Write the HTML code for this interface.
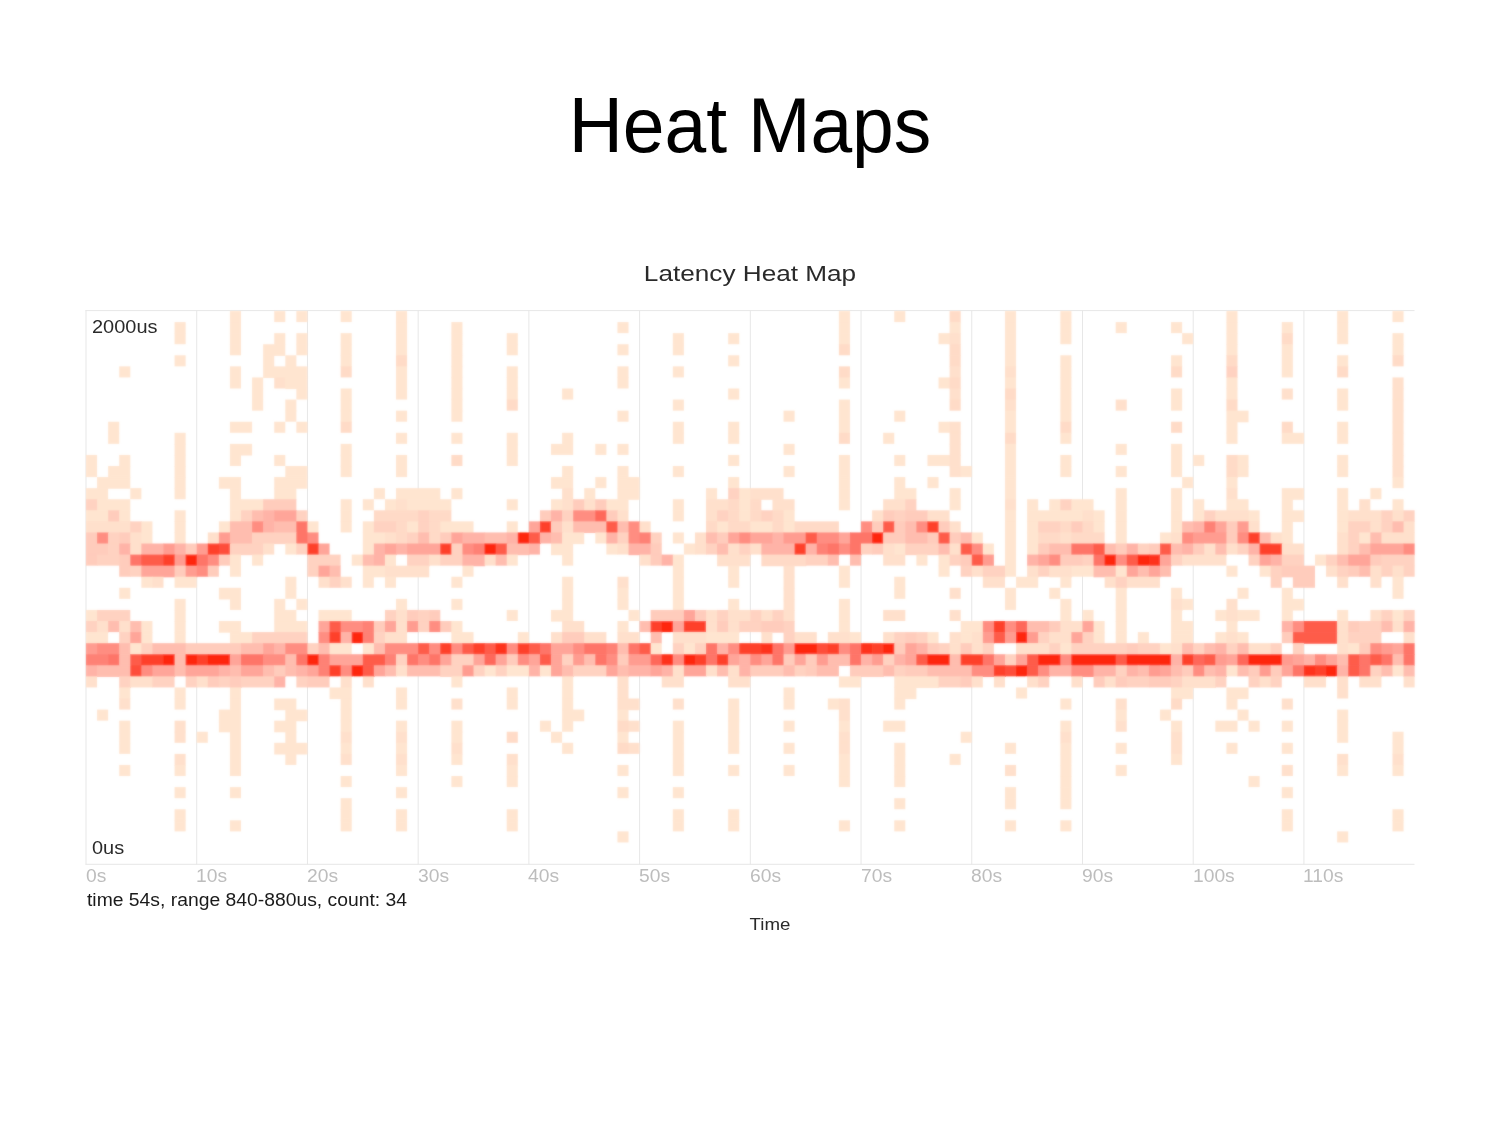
<!DOCTYPE html>
<html><head><meta charset="utf-8"><title>Heat Maps</title>
<style>
html,body{margin:0;padding:0;background:#fff;}
body{width:1500px;height:1125px;position:relative;overflow:hidden;font-family:"Liberation Sans",sans-serif;}
.title{position:absolute;left:0;width:1500px;top:83px;text-align:center;font-size:75px;line-height:86px;color:#000;transform:scaleY(1.05);transform-origin:50% 68.7px;}
.sub{position:absolute;left:0;width:1500px;top:259.9px;text-align:center;font-size:22.6px;line-height:28px;color:#2a2a2a;transform:scaleX(1.158);transform-origin:750px 50%;}
svg{position:absolute;left:0;top:0;}
.ax{position:absolute;top:866px;font-size:17.5px;line-height:20px;color:#bdbdbd;transform:scaleX(1.10);transform-origin:0 50%;white-space:nowrap;}
.yl{position:absolute;left:92.4px;font-size:17.5px;line-height:20px;color:#2a2a2a;transform:scaleX(1.14);transform-origin:0 50%;white-space:nowrap;}
.info{position:absolute;left:86.6px;top:890px;font-size:17.5px;line-height:20px;color:#1a1a1a;transform:scaleX(1.104);transform-origin:0 50%;white-space:nowrap;}
.time{position:absolute;left:720px;width:100px;top:914.5px;text-align:center;font-size:17px;line-height:20px;color:#2a2a2a;transform:scaleX(1.1);transform-origin:50% 50%;}
</style></head><body>
<div class="title">Heat Maps</div>
<div class="sub">Latency Heat Map</div>
<svg width="1500" height="1125" viewBox="0 0 1500 1125">
<defs><filter id="bl" x="0" y="0" width="1500" height="1125" filterUnits="userSpaceOnUse"><feGaussianBlur stdDeviation="0.9" result="b"/><feComposite in="b" in2="SourceGraphic" operator="arithmetic" k1="0" k2="0.5" k3="0.5" k4="0"/></filter></defs>
<g><rect x="85.50" y="310.2" width="1" height="554.4" fill="#e7e7e7"/>
<rect x="196.22" y="310.2" width="1" height="554.4" fill="#e7e7e7"/>
<rect x="306.94" y="310.2" width="1" height="554.4" fill="#e7e7e7"/>
<rect x="417.66" y="310.2" width="1" height="554.4" fill="#e7e7e7"/>
<rect x="528.38" y="310.2" width="1" height="554.4" fill="#e7e7e7"/>
<rect x="639.10" y="310.2" width="1" height="554.4" fill="#e7e7e7"/>
<rect x="749.82" y="310.2" width="1" height="554.4" fill="#e7e7e7"/>
<rect x="860.54" y="310.2" width="1" height="554.4" fill="#e7e7e7"/>
<rect x="971.26" y="310.2" width="1" height="554.4" fill="#e7e7e7"/>
<rect x="1081.98" y="310.2" width="1" height="554.4" fill="#e7e7e7"/>
<rect x="1192.70" y="310.2" width="1" height="554.4" fill="#e7e7e7"/>
<rect x="1303.42" y="310.2" width="1" height="554.4" fill="#e7e7e7"/>
<rect x="85.5" y="310.1" width="1329" height="1" fill="#e7e7e7"/>
<rect x="85.5" y="863.8" width="1329" height="1" fill="#e7e7e7"/></g>
<g filter="url(#bl)"><rect x="229.94" y="311.00" width="11.07" height="11.67" fill="#ffe5d0"/>
<rect x="274.22" y="311.00" width="11.07" height="11.07" fill="#ffe5d0"/>
<rect x="296.37" y="311.00" width="11.07" height="11.07" fill="#ffe5d0"/>
<rect x="340.66" y="311.00" width="11.07" height="11.07" fill="#ffe5d0"/>
<rect x="396.02" y="311.00" width="11.07" height="11.67" fill="#ffe5d0"/>
<rect x="838.90" y="311.00" width="11.07" height="11.67" fill="#ffe5d0"/>
<rect x="894.26" y="311.00" width="11.07" height="11.07" fill="#ffe5d0"/>
<rect x="949.62" y="311.00" width="11.07" height="11.67" fill="#ffdbc7"/>
<rect x="1004.98" y="311.00" width="11.07" height="11.67" fill="#ffe5d0"/>
<rect x="1060.34" y="311.00" width="11.07" height="11.67" fill="#ffe5d0"/>
<rect x="1226.42" y="311.00" width="11.07" height="11.67" fill="#ffe5d0"/>
<rect x="1337.14" y="311.00" width="11.07" height="11.67" fill="#ffe5d0"/>
<rect x="1392.50" y="311.00" width="11.07" height="11.07" fill="#ffe5d0"/>
<rect x="174.58" y="322.07" width="11.07" height="11.67" fill="#ffe5d0"/>
<rect x="229.94" y="322.07" width="11.07" height="11.67" fill="#ffe5d0"/>
<rect x="396.02" y="322.07" width="11.07" height="11.67" fill="#ffe5d0"/>
<rect x="451.38" y="322.07" width="11.07" height="11.67" fill="#ffe5d0"/>
<rect x="617.46" y="322.07" width="11.07" height="11.07" fill="#ffe5d0"/>
<rect x="838.90" y="322.07" width="11.07" height="11.67" fill="#ffe5d0"/>
<rect x="949.62" y="322.07" width="11.07" height="11.67" fill="#ffe5d0"/>
<rect x="1004.98" y="322.07" width="11.07" height="11.67" fill="#ffe5d0"/>
<rect x="1060.34" y="322.07" width="11.07" height="11.67" fill="#ffe5d0"/>
<rect x="1115.70" y="322.07" width="11.07" height="11.07" fill="#ffe5d0"/>
<rect x="1171.06" y="322.07" width="11.07" height="11.07" fill="#ffe5d0"/>
<rect x="1226.42" y="322.07" width="11.07" height="11.67" fill="#ffe5d0"/>
<rect x="1281.78" y="322.07" width="11.07" height="11.67" fill="#ffe5d0"/>
<rect x="1337.14" y="322.07" width="11.07" height="11.67" fill="#ffe5d0"/>
<rect x="174.58" y="333.14" width="11.07" height="11.07" fill="#ffe5d0"/>
<rect x="229.94" y="333.14" width="11.07" height="11.67" fill="#ffe5d0"/>
<rect x="274.22" y="333.14" width="11.07" height="11.67" fill="#ffe5d0"/>
<rect x="296.37" y="333.14" width="11.07" height="11.67" fill="#ffe5d0"/>
<rect x="340.66" y="333.14" width="11.07" height="11.67" fill="#ffe5d0"/>
<rect x="396.02" y="333.14" width="11.07" height="11.67" fill="#ffe5d0"/>
<rect x="451.38" y="333.14" width="11.07" height="11.67" fill="#ffe5d0"/>
<rect x="506.74" y="333.14" width="11.07" height="11.67" fill="#ffe5d0"/>
<rect x="672.82" y="333.14" width="11.07" height="11.67" fill="#ffe5d0"/>
<rect x="728.18" y="333.14" width="11.07" height="11.07" fill="#ffe5d0"/>
<rect x="838.90" y="333.14" width="11.07" height="11.67" fill="#ffe5d0"/>
<rect x="938.54" y="333.14" width="11.67" height="11.07" fill="#ffe5d0"/>
<rect x="949.62" y="333.14" width="11.07" height="11.67" fill="#ffe0cc"/>
<rect x="1004.98" y="333.14" width="11.07" height="11.67" fill="#ffe5d0"/>
<rect x="1060.34" y="333.14" width="11.07" height="11.07" fill="#ffe5d0"/>
<rect x="1182.13" y="333.14" width="11.07" height="11.07" fill="#ffe5d0"/>
<rect x="1226.42" y="333.14" width="11.07" height="11.67" fill="#ffe5d0"/>
<rect x="1281.78" y="333.14" width="11.07" height="11.67" fill="#ffdbc7"/>
<rect x="1337.14" y="333.14" width="11.07" height="11.07" fill="#ffe5d0"/>
<rect x="1392.50" y="333.14" width="11.07" height="11.67" fill="#ffe5d0"/>
<rect x="229.94" y="344.22" width="11.07" height="11.07" fill="#ffe5d0"/>
<rect x="263.15" y="344.22" width="22.14" height="11.67" fill="#ffe5d0"/>
<rect x="296.37" y="344.22" width="11.07" height="11.07" fill="#ffe5d0"/>
<rect x="340.66" y="344.22" width="11.07" height="11.67" fill="#ffe5d0"/>
<rect x="396.02" y="344.22" width="11.07" height="11.67" fill="#ffe5d0"/>
<rect x="451.38" y="344.22" width="11.07" height="11.67" fill="#ffe5d0"/>
<rect x="506.74" y="344.22" width="11.07" height="11.07" fill="#ffe5d0"/>
<rect x="617.46" y="344.22" width="11.07" height="11.07" fill="#ffe5d0"/>
<rect x="672.82" y="344.22" width="11.07" height="11.07" fill="#ffe5d0"/>
<rect x="838.90" y="344.22" width="11.07" height="11.07" fill="#ffdbc7"/>
<rect x="949.62" y="344.22" width="11.07" height="11.67" fill="#ffdbc7"/>
<rect x="1004.98" y="344.22" width="11.07" height="11.67" fill="#ffe5d0"/>
<rect x="1226.42" y="344.22" width="11.07" height="11.67" fill="#ffe5d0"/>
<rect x="1281.78" y="344.22" width="11.07" height="11.67" fill="#ffe5d0"/>
<rect x="1392.50" y="344.22" width="11.07" height="11.67" fill="#ffe5d0"/>
<rect x="174.58" y="355.29" width="11.07" height="11.07" fill="#ffe5d0"/>
<rect x="263.15" y="355.29" width="11.07" height="11.67" fill="#ffe5d0"/>
<rect x="285.30" y="355.29" width="11.07" height="11.67" fill="#ffe5d0"/>
<rect x="340.66" y="355.29" width="11.07" height="11.67" fill="#ffe5d0"/>
<rect x="396.02" y="355.29" width="11.07" height="11.67" fill="#ffdbc7"/>
<rect x="451.38" y="355.29" width="11.07" height="11.67" fill="#ffe5d0"/>
<rect x="728.18" y="355.29" width="11.07" height="11.07" fill="#ffe5d0"/>
<rect x="949.62" y="355.29" width="11.07" height="11.67" fill="#ffdbc7"/>
<rect x="1004.98" y="355.29" width="11.07" height="11.67" fill="#ffe5d0"/>
<rect x="1060.34" y="355.29" width="11.07" height="11.67" fill="#ffe5d0"/>
<rect x="1171.06" y="355.29" width="11.07" height="11.67" fill="#ffe5d0"/>
<rect x="1226.42" y="355.29" width="11.07" height="11.67" fill="#ffdbc7"/>
<rect x="1281.78" y="355.29" width="11.07" height="11.67" fill="#ffe5d0"/>
<rect x="1337.14" y="355.29" width="11.07" height="11.67" fill="#ffe5d0"/>
<rect x="1392.50" y="355.29" width="11.07" height="11.07" fill="#ffdbc7"/>
<rect x="119.22" y="366.36" width="11.07" height="11.07" fill="#ffe5d0"/>
<rect x="229.94" y="366.36" width="11.07" height="11.67" fill="#ffe5d0"/>
<rect x="263.15" y="366.36" width="44.29" height="11.67" fill="#ffe5d0"/>
<rect x="340.66" y="366.36" width="11.07" height="11.07" fill="#ffdbc7"/>
<rect x="396.02" y="366.36" width="11.07" height="11.67" fill="#ffe5d0"/>
<rect x="451.38" y="366.36" width="11.07" height="11.67" fill="#ffe5d0"/>
<rect x="506.74" y="366.36" width="11.07" height="11.67" fill="#ffe5d0"/>
<rect x="617.46" y="366.36" width="11.07" height="11.67" fill="#ffe5d0"/>
<rect x="672.82" y="366.36" width="11.07" height="11.07" fill="#ffe5d0"/>
<rect x="838.90" y="366.36" width="11.07" height="11.67" fill="#ffdbc7"/>
<rect x="949.62" y="366.36" width="11.07" height="11.67" fill="#ffe0cc"/>
<rect x="1004.98" y="366.36" width="11.07" height="11.67" fill="#ffe0cc"/>
<rect x="1060.34" y="366.36" width="11.07" height="11.67" fill="#ffe5d0"/>
<rect x="1171.06" y="366.36" width="11.07" height="11.07" fill="#ffdbc7"/>
<rect x="1226.42" y="366.36" width="11.07" height="11.67" fill="#ffd2c1"/>
<rect x="1281.78" y="366.36" width="11.07" height="11.07" fill="#ffe5d0"/>
<rect x="1337.14" y="366.36" width="11.07" height="11.07" fill="#ffdbc7"/>
<rect x="229.94" y="377.43" width="11.07" height="11.07" fill="#ffe5d0"/>
<rect x="252.08" y="377.43" width="11.07" height="11.67" fill="#ffe5d0"/>
<rect x="274.22" y="377.43" width="11.67" height="11.07" fill="#ffe0cc"/>
<rect x="285.30" y="377.43" width="22.14" height="11.67" fill="#ffe5d0"/>
<rect x="396.02" y="377.43" width="11.07" height="11.67" fill="#ffe5d0"/>
<rect x="451.38" y="377.43" width="11.07" height="11.67" fill="#ffe5d0"/>
<rect x="506.74" y="377.43" width="11.07" height="11.67" fill="#ffe5d0"/>
<rect x="617.46" y="377.43" width="11.07" height="11.07" fill="#ffe5d0"/>
<rect x="838.90" y="377.43" width="11.07" height="11.07" fill="#ffe5d0"/>
<rect x="938.54" y="377.43" width="11.67" height="11.07" fill="#ffe5d0"/>
<rect x="949.62" y="377.43" width="11.07" height="11.67" fill="#ffdbc7"/>
<rect x="1004.98" y="377.43" width="11.07" height="11.67" fill="#ffe5d0"/>
<rect x="1060.34" y="377.43" width="11.07" height="11.67" fill="#ffe5d0"/>
<rect x="1226.42" y="377.43" width="11.07" height="11.67" fill="#ffe5d0"/>
<rect x="1392.50" y="377.43" width="11.07" height="11.67" fill="#ffe0cc"/>
<rect x="252.08" y="388.50" width="11.07" height="11.67" fill="#ffe5d0"/>
<rect x="296.37" y="388.50" width="11.07" height="11.07" fill="#ffe5d0"/>
<rect x="340.66" y="388.50" width="11.07" height="11.67" fill="#ffe5d0"/>
<rect x="396.02" y="388.50" width="11.07" height="11.07" fill="#ffe5d0"/>
<rect x="451.38" y="388.50" width="11.07" height="11.67" fill="#ffe5d0"/>
<rect x="506.74" y="388.50" width="11.07" height="11.67" fill="#ffe5d0"/>
<rect x="562.10" y="388.50" width="11.07" height="11.07" fill="#ffe5d0"/>
<rect x="728.18" y="388.50" width="11.07" height="11.07" fill="#ffe5d0"/>
<rect x="949.62" y="388.50" width="11.07" height="11.67" fill="#ffe0cc"/>
<rect x="1004.98" y="388.50" width="11.07" height="11.67" fill="#ffdbc7"/>
<rect x="1060.34" y="388.50" width="11.07" height="11.67" fill="#ffe5d0"/>
<rect x="1171.06" y="388.50" width="11.07" height="11.67" fill="#ffe5d0"/>
<rect x="1226.42" y="388.50" width="11.07" height="11.67" fill="#ffe5d0"/>
<rect x="1281.78" y="388.50" width="11.07" height="11.07" fill="#ffe0cc"/>
<rect x="1337.14" y="388.50" width="11.07" height="11.67" fill="#ffe5d0"/>
<rect x="1392.50" y="388.50" width="11.07" height="11.67" fill="#ffe0cc"/>
<rect x="252.08" y="399.58" width="11.07" height="11.07" fill="#ffe5d0"/>
<rect x="285.30" y="399.58" width="11.07" height="11.67" fill="#ffe5d0"/>
<rect x="340.66" y="399.58" width="11.07" height="11.67" fill="#ffe5d0"/>
<rect x="451.38" y="399.58" width="11.07" height="11.67" fill="#ffe5d0"/>
<rect x="506.74" y="399.58" width="11.07" height="11.07" fill="#ffdbc7"/>
<rect x="672.82" y="399.58" width="11.07" height="11.07" fill="#ffe5d0"/>
<rect x="838.90" y="399.58" width="11.07" height="11.67" fill="#ffe5d0"/>
<rect x="949.62" y="399.58" width="11.07" height="11.07" fill="#ffdbc7"/>
<rect x="1004.98" y="399.58" width="11.07" height="11.67" fill="#ffe0cc"/>
<rect x="1060.34" y="399.58" width="11.07" height="11.67" fill="#ffe5d0"/>
<rect x="1115.70" y="399.58" width="11.07" height="11.07" fill="#ffe0cc"/>
<rect x="1171.06" y="399.58" width="11.07" height="11.07" fill="#ffe5d0"/>
<rect x="1226.42" y="399.58" width="11.07" height="11.67" fill="#ffdbc7"/>
<rect x="1337.14" y="399.58" width="11.07" height="11.07" fill="#ffe5d0"/>
<rect x="1392.50" y="399.58" width="11.07" height="11.67" fill="#ffe0cc"/>
<rect x="285.30" y="410.65" width="11.07" height="11.07" fill="#ffe5d0"/>
<rect x="340.66" y="410.65" width="11.07" height="11.67" fill="#ffe5d0"/>
<rect x="396.02" y="410.65" width="11.07" height="11.07" fill="#ffe5d0"/>
<rect x="451.38" y="410.65" width="11.07" height="11.07" fill="#ffe5d0"/>
<rect x="617.46" y="410.65" width="11.07" height="11.07" fill="#ffe5d0"/>
<rect x="783.54" y="410.65" width="11.07" height="11.07" fill="#ffe5d0"/>
<rect x="838.90" y="410.65" width="11.07" height="11.67" fill="#ffe5d0"/>
<rect x="894.26" y="410.65" width="11.07" height="11.07" fill="#ffe5d0"/>
<rect x="1004.98" y="410.65" width="11.07" height="11.67" fill="#ffe5d0"/>
<rect x="1060.34" y="410.65" width="11.07" height="11.67" fill="#ffe5d0"/>
<rect x="1226.42" y="410.65" width="22.14" height="11.67" fill="#ffe5d0"/>
<rect x="1392.50" y="410.65" width="11.07" height="11.67" fill="#ffe0cc"/>
<rect x="108.14" y="421.72" width="11.07" height="11.67" fill="#ffe5d0"/>
<rect x="229.94" y="421.72" width="22.14" height="11.07" fill="#ffe5d0"/>
<rect x="274.22" y="421.72" width="11.07" height="11.07" fill="#ffe5d0"/>
<rect x="296.37" y="421.72" width="11.07" height="11.07" fill="#ffe5d0"/>
<rect x="340.66" y="421.72" width="11.07" height="11.07" fill="#ffdbc7"/>
<rect x="672.82" y="421.72" width="11.07" height="11.67" fill="#ffe5d0"/>
<rect x="728.18" y="421.72" width="11.07" height="11.67" fill="#ffe5d0"/>
<rect x="838.90" y="421.72" width="11.07" height="11.67" fill="#ffe5d0"/>
<rect x="938.54" y="421.72" width="11.67" height="11.07" fill="#ffe5d0"/>
<rect x="949.62" y="421.72" width="11.07" height="11.67" fill="#ffe0cc"/>
<rect x="1004.98" y="421.72" width="11.07" height="11.67" fill="#ffe5d0"/>
<rect x="1060.34" y="421.72" width="11.07" height="11.67" fill="#ffdbc7"/>
<rect x="1171.06" y="421.72" width="11.07" height="11.07" fill="#ffdbc7"/>
<rect x="1226.42" y="421.72" width="11.07" height="11.67" fill="#ffe5d0"/>
<rect x="1281.78" y="421.72" width="11.07" height="11.67" fill="#ffdbc7"/>
<rect x="1337.14" y="421.72" width="11.07" height="11.67" fill="#ffe5d0"/>
<rect x="1392.50" y="421.72" width="11.07" height="11.67" fill="#ffe0cc"/>
<rect x="108.14" y="432.79" width="11.07" height="11.07" fill="#ffe5d0"/>
<rect x="174.58" y="432.79" width="11.07" height="11.67" fill="#ffe5d0"/>
<rect x="396.02" y="432.79" width="11.07" height="11.07" fill="#ffe5d0"/>
<rect x="451.38" y="432.79" width="11.07" height="11.07" fill="#ffe5d0"/>
<rect x="506.74" y="432.79" width="11.07" height="11.67" fill="#ffe5d0"/>
<rect x="562.10" y="432.79" width="11.07" height="11.67" fill="#ffe5d0"/>
<rect x="672.82" y="432.79" width="11.07" height="11.07" fill="#ffe5d0"/>
<rect x="728.18" y="432.79" width="11.07" height="11.07" fill="#ffe5d0"/>
<rect x="838.90" y="432.79" width="11.07" height="11.07" fill="#ffdbc7"/>
<rect x="883.18" y="432.79" width="11.07" height="11.07" fill="#ffe5d0"/>
<rect x="949.62" y="432.79" width="11.07" height="11.67" fill="#ffe0cc"/>
<rect x="1004.98" y="432.79" width="11.07" height="11.67" fill="#ffdbc7"/>
<rect x="1060.34" y="432.79" width="11.07" height="11.07" fill="#ffe5d0"/>
<rect x="1226.42" y="432.79" width="11.07" height="11.07" fill="#ffe5d0"/>
<rect x="1281.78" y="432.79" width="22.14" height="11.07" fill="#ffe5d0"/>
<rect x="1337.14" y="432.79" width="11.07" height="11.07" fill="#ffe5d0"/>
<rect x="1392.50" y="432.79" width="11.07" height="11.67" fill="#ffe0cc"/>
<rect x="174.58" y="443.86" width="11.07" height="11.67" fill="#ffe5d0"/>
<rect x="229.94" y="443.86" width="22.14" height="11.67" fill="#ffe5d0"/>
<rect x="340.66" y="443.86" width="11.07" height="11.67" fill="#ffe5d0"/>
<rect x="506.74" y="443.86" width="11.07" height="11.67" fill="#ffe5d0"/>
<rect x="551.02" y="443.86" width="22.14" height="11.07" fill="#ffe5d0"/>
<rect x="595.31" y="443.86" width="11.07" height="11.07" fill="#ffe5d0"/>
<rect x="617.46" y="443.86" width="11.07" height="11.07" fill="#ffe5d0"/>
<rect x="783.54" y="443.86" width="11.07" height="11.07" fill="#ffe5d0"/>
<rect x="949.62" y="443.86" width="11.07" height="11.67" fill="#ffe0cc"/>
<rect x="1004.98" y="443.86" width="11.07" height="11.67" fill="#ffe5d0"/>
<rect x="1115.70" y="443.86" width="11.07" height="11.07" fill="#ffe5d0"/>
<rect x="1171.06" y="443.86" width="11.07" height="11.67" fill="#ffe5d0"/>
<rect x="1392.50" y="443.86" width="11.07" height="11.67" fill="#ffe0cc"/>
<rect x="86.00" y="454.94" width="11.07" height="11.67" fill="#ffe5d0"/>
<rect x="119.22" y="454.94" width="11.07" height="11.67" fill="#ffe5d0"/>
<rect x="174.58" y="454.94" width="11.07" height="11.67" fill="#ffe5d0"/>
<rect x="229.94" y="454.94" width="11.07" height="11.07" fill="#ffe5d0"/>
<rect x="274.22" y="454.94" width="11.07" height="11.07" fill="#ffe5d0"/>
<rect x="340.66" y="454.94" width="11.07" height="11.67" fill="#ffe5d0"/>
<rect x="396.02" y="454.94" width="11.07" height="11.67" fill="#ffe5d0"/>
<rect x="451.38" y="454.94" width="11.07" height="11.07" fill="#ffdbc7"/>
<rect x="506.74" y="454.94" width="11.07" height="11.07" fill="#ffe5d0"/>
<rect x="728.18" y="454.94" width="11.07" height="11.07" fill="#ffe5d0"/>
<rect x="838.90" y="454.94" width="11.07" height="11.67" fill="#ffe5d0"/>
<rect x="894.26" y="454.94" width="11.07" height="11.07" fill="#ffe5d0"/>
<rect x="927.47" y="454.94" width="22.74" height="11.07" fill="#ffe5d0"/>
<rect x="949.62" y="454.94" width="11.07" height="11.67" fill="#ffe0cc"/>
<rect x="1004.98" y="454.94" width="11.07" height="11.67" fill="#ffe5d0"/>
<rect x="1060.34" y="454.94" width="11.07" height="11.67" fill="#ffe5d0"/>
<rect x="1171.06" y="454.94" width="11.07" height="11.67" fill="#ffe5d0"/>
<rect x="1193.20" y="454.94" width="11.07" height="11.07" fill="#ffe5d0"/>
<rect x="1226.42" y="454.94" width="11.67" height="11.67" fill="#ffdbc7"/>
<rect x="1237.49" y="454.94" width="11.07" height="11.67" fill="#ffe5d0"/>
<rect x="1337.14" y="454.94" width="11.07" height="11.67" fill="#ffe5d0"/>
<rect x="1392.50" y="454.94" width="11.07" height="11.67" fill="#ffe0cc"/>
<rect x="86.00" y="466.01" width="11.07" height="11.07" fill="#ffe5d0"/>
<rect x="108.14" y="466.01" width="22.14" height="11.67" fill="#ffe5d0"/>
<rect x="174.58" y="466.01" width="11.07" height="11.67" fill="#ffe5d0"/>
<rect x="285.30" y="466.01" width="22.14" height="11.67" fill="#ffe5d0"/>
<rect x="340.66" y="466.01" width="11.07" height="11.07" fill="#ffe5d0"/>
<rect x="396.02" y="466.01" width="11.07" height="11.07" fill="#ffe5d0"/>
<rect x="562.10" y="466.01" width="11.07" height="11.67" fill="#ffe5d0"/>
<rect x="617.46" y="466.01" width="11.07" height="11.67" fill="#ffe5d0"/>
<rect x="672.82" y="466.01" width="11.07" height="11.07" fill="#ffe5d0"/>
<rect x="783.54" y="466.01" width="11.07" height="11.07" fill="#ffe5d0"/>
<rect x="838.90" y="466.01" width="11.07" height="11.67" fill="#ffe5d0"/>
<rect x="949.62" y="466.01" width="11.67" height="11.07" fill="#ffe0cc"/>
<rect x="960.69" y="466.01" width="11.07" height="11.07" fill="#ffe5d0"/>
<rect x="1004.98" y="466.01" width="11.07" height="11.67" fill="#ffe5d0"/>
<rect x="1060.34" y="466.01" width="11.07" height="11.07" fill="#ffe5d0"/>
<rect x="1115.70" y="466.01" width="11.07" height="11.07" fill="#ffe5d0"/>
<rect x="1171.06" y="466.01" width="11.07" height="11.07" fill="#ffe5d0"/>
<rect x="1226.42" y="466.01" width="11.67" height="11.67" fill="#ffdbc7"/>
<rect x="1237.49" y="466.01" width="11.07" height="11.07" fill="#ffe5d0"/>
<rect x="1337.14" y="466.01" width="11.07" height="11.07" fill="#ffe5d0"/>
<rect x="1392.50" y="466.01" width="11.07" height="11.67" fill="#ffe0cc"/>
<rect x="97.07" y="477.08" width="33.22" height="11.67" fill="#ffe5d0"/>
<rect x="174.58" y="477.08" width="11.07" height="11.67" fill="#ffe5d0"/>
<rect x="218.86" y="477.08" width="22.14" height="11.67" fill="#ffe5d0"/>
<rect x="274.22" y="477.08" width="33.22" height="11.67" fill="#ffe5d0"/>
<rect x="551.02" y="477.08" width="22.14" height="11.67" fill="#ffe5d0"/>
<rect x="595.31" y="477.08" width="11.07" height="11.07" fill="#ffe5d0"/>
<rect x="617.46" y="477.08" width="22.14" height="11.67" fill="#ffe5d0"/>
<rect x="728.18" y="477.08" width="11.07" height="11.67" fill="#ffe5d0"/>
<rect x="838.90" y="477.08" width="11.07" height="11.67" fill="#ffe5d0"/>
<rect x="894.26" y="477.08" width="11.07" height="11.67" fill="#ffe5d0"/>
<rect x="927.47" y="477.08" width="11.07" height="11.07" fill="#ffe5d0"/>
<rect x="1004.98" y="477.08" width="11.07" height="11.67" fill="#ffe5d0"/>
<rect x="1182.13" y="477.08" width="11.07" height="11.07" fill="#ffe5d0"/>
<rect x="1226.42" y="477.08" width="11.07" height="11.67" fill="#ffe5d0"/>
<rect x="1392.50" y="477.08" width="11.07" height="11.07" fill="#ffe5d0"/>
<rect x="86.00" y="488.15" width="22.14" height="11.67" fill="#ffe5d0"/>
<rect x="130.29" y="488.15" width="11.07" height="11.07" fill="#ffe5d0"/>
<rect x="174.58" y="488.15" width="11.07" height="11.07" fill="#ffe5d0"/>
<rect x="229.94" y="488.15" width="11.07" height="11.67" fill="#ffe5d0"/>
<rect x="274.22" y="488.15" width="22.14" height="11.67" fill="#ffe5d0"/>
<rect x="373.87" y="488.15" width="11.07" height="11.07" fill="#ffe5d0"/>
<rect x="396.02" y="488.15" width="44.29" height="11.67" fill="#ffe5d0"/>
<rect x="451.38" y="488.15" width="11.07" height="11.07" fill="#ffe5d0"/>
<rect x="562.10" y="488.15" width="11.07" height="11.67" fill="#ffe0cc"/>
<rect x="584.24" y="488.15" width="11.07" height="11.67" fill="#ffe5d0"/>
<rect x="617.46" y="488.15" width="22.14" height="11.67" fill="#ffe5d0"/>
<rect x="706.03" y="488.15" width="11.07" height="11.67" fill="#ffe5d0"/>
<rect x="728.18" y="488.15" width="11.67" height="11.67" fill="#ffd2c1"/>
<rect x="739.25" y="488.15" width="11.67" height="11.67" fill="#ffe5d0"/>
<rect x="750.32" y="488.15" width="33.22" height="11.67" fill="#ffe0cc"/>
<rect x="838.90" y="488.15" width="11.07" height="11.67" fill="#ffe5d0"/>
<rect x="894.26" y="488.15" width="22.14" height="11.67" fill="#ffe5d0"/>
<rect x="949.62" y="488.15" width="11.07" height="11.67" fill="#ffe5d0"/>
<rect x="1004.98" y="488.15" width="11.07" height="11.67" fill="#ffe5d0"/>
<rect x="1115.70" y="488.15" width="11.07" height="11.67" fill="#ffe5d0"/>
<rect x="1171.06" y="488.15" width="11.07" height="11.67" fill="#ffe5d0"/>
<rect x="1226.42" y="488.15" width="11.07" height="11.67" fill="#ffe0cc"/>
<rect x="1281.78" y="488.15" width="22.14" height="11.67" fill="#ffe5d0"/>
<rect x="1337.14" y="488.15" width="11.07" height="11.67" fill="#ffe5d0"/>
<rect x="1370.35" y="488.15" width="11.07" height="11.07" fill="#ffe5d0"/>
<rect x="86.00" y="499.22" width="11.67" height="11.67" fill="#ffd2c1"/>
<rect x="97.07" y="499.22" width="33.22" height="11.67" fill="#ffe5d0"/>
<rect x="229.94" y="499.22" width="33.82" height="11.67" fill="#ffe5d0"/>
<rect x="263.15" y="499.22" width="33.22" height="11.67" fill="#ffccbc"/>
<rect x="340.66" y="499.22" width="11.07" height="11.67" fill="#ffe5d0"/>
<rect x="362.80" y="499.22" width="11.07" height="11.07" fill="#ffe5d0"/>
<rect x="384.94" y="499.22" width="11.67" height="11.67" fill="#ffe5d0"/>
<rect x="396.02" y="499.22" width="11.67" height="11.67" fill="#ffe0cc"/>
<rect x="407.09" y="499.22" width="44.29" height="11.67" fill="#ffe5d0"/>
<rect x="506.74" y="499.22" width="11.07" height="11.07" fill="#ffe5d0"/>
<rect x="551.02" y="499.22" width="11.67" height="11.67" fill="#ffe5d0"/>
<rect x="562.10" y="499.22" width="11.67" height="11.67" fill="#ffe0cc"/>
<rect x="573.17" y="499.22" width="11.67" height="11.67" fill="#ffccbc"/>
<rect x="584.24" y="499.22" width="11.67" height="11.67" fill="#ffe0cc"/>
<rect x="595.31" y="499.22" width="11.67" height="11.67" fill="#ffccbc"/>
<rect x="606.38" y="499.22" width="22.14" height="11.67" fill="#ffe5d0"/>
<rect x="672.82" y="499.22" width="11.07" height="11.67" fill="#ffe5d0"/>
<rect x="706.03" y="499.22" width="22.74" height="11.67" fill="#ffe0cc"/>
<rect x="728.18" y="499.22" width="11.67" height="11.67" fill="#ffdac7"/>
<rect x="739.25" y="499.22" width="11.67" height="11.67" fill="#ffe5d0"/>
<rect x="750.32" y="499.22" width="11.07" height="11.67" fill="#ffdac7"/>
<rect x="772.46" y="499.22" width="22.14" height="11.67" fill="#ffe0cc"/>
<rect x="838.90" y="499.22" width="11.07" height="11.07" fill="#ffe5d0"/>
<rect x="883.18" y="499.22" width="22.74" height="11.67" fill="#ffe0cc"/>
<rect x="905.33" y="499.22" width="11.07" height="11.67" fill="#ffd2c1"/>
<rect x="949.62" y="499.22" width="11.07" height="11.07" fill="#ffe5d0"/>
<rect x="1004.98" y="499.22" width="11.07" height="11.67" fill="#ffe0cc"/>
<rect x="1027.12" y="499.22" width="11.07" height="11.67" fill="#ffe5d0"/>
<rect x="1049.26" y="499.22" width="11.67" height="11.67" fill="#ffe5d0"/>
<rect x="1060.34" y="499.22" width="11.67" height="11.67" fill="#ffd2c1"/>
<rect x="1071.41" y="499.22" width="22.14" height="11.67" fill="#ffe5d0"/>
<rect x="1115.70" y="499.22" width="11.07" height="11.67" fill="#ffe5d0"/>
<rect x="1171.06" y="499.22" width="11.07" height="11.67" fill="#ffe5d0"/>
<rect x="1193.20" y="499.22" width="11.07" height="11.67" fill="#ffe5d0"/>
<rect x="1226.42" y="499.22" width="22.14" height="11.67" fill="#ffe5d0"/>
<rect x="1281.78" y="499.22" width="11.07" height="11.67" fill="#ffe5d0"/>
<rect x="1337.14" y="499.22" width="11.07" height="11.67" fill="#ffe5d0"/>
<rect x="1359.28" y="499.22" width="11.07" height="11.67" fill="#ffe0cc"/>
<rect x="1392.50" y="499.22" width="11.07" height="11.67" fill="#ffe5d0"/>
<rect x="86.00" y="510.30" width="22.74" height="11.67" fill="#ffe5d0"/>
<rect x="108.14" y="510.30" width="11.67" height="11.67" fill="#ffccbc"/>
<rect x="119.22" y="510.30" width="11.07" height="11.67" fill="#ffe5d0"/>
<rect x="174.58" y="510.30" width="11.07" height="11.67" fill="#ffe5d0"/>
<rect x="229.94" y="510.30" width="11.67" height="11.67" fill="#ffe5d0"/>
<rect x="241.01" y="510.30" width="11.67" height="11.67" fill="#ffd2c1"/>
<rect x="252.08" y="510.30" width="11.67" height="11.67" fill="#ffbdaf"/>
<rect x="263.15" y="510.30" width="11.67" height="11.67" fill="#ffb3a7"/>
<rect x="274.22" y="510.30" width="22.74" height="11.67" fill="#ffa599"/>
<rect x="296.37" y="510.30" width="11.07" height="11.67" fill="#ffd2c1"/>
<rect x="340.66" y="510.30" width="11.07" height="11.67" fill="#ffe5d0"/>
<rect x="373.87" y="510.30" width="44.89" height="11.67" fill="#ffdac7"/>
<rect x="418.16" y="510.30" width="11.67" height="11.67" fill="#ffd2c1"/>
<rect x="429.23" y="510.30" width="22.14" height="11.67" fill="#ffdac7"/>
<rect x="539.95" y="510.30" width="11.67" height="11.67" fill="#ffccbc"/>
<rect x="551.02" y="510.30" width="11.67" height="11.67" fill="#ffb3a7"/>
<rect x="562.10" y="510.30" width="11.67" height="11.67" fill="#ffd2c1"/>
<rect x="573.17" y="510.30" width="22.74" height="11.67" fill="#ff8d81"/>
<rect x="595.31" y="510.30" width="11.67" height="11.67" fill="#fe675a"/>
<rect x="606.38" y="510.30" width="11.67" height="11.67" fill="#ffccbc"/>
<rect x="617.46" y="510.30" width="11.07" height="11.67" fill="#ffe0cc"/>
<rect x="672.82" y="510.30" width="11.07" height="11.07" fill="#ffe5d0"/>
<rect x="706.03" y="510.30" width="11.67" height="11.67" fill="#ffe0cc"/>
<rect x="717.10" y="510.30" width="11.67" height="11.67" fill="#ffd2c1"/>
<rect x="728.18" y="510.30" width="11.67" height="11.67" fill="#ffdac7"/>
<rect x="739.25" y="510.30" width="11.67" height="11.67" fill="#ffe5d0"/>
<rect x="750.32" y="510.30" width="11.67" height="11.67" fill="#ffdac7"/>
<rect x="761.39" y="510.30" width="11.67" height="11.67" fill="#ffd2c1"/>
<rect x="772.46" y="510.30" width="11.67" height="11.67" fill="#ffdac7"/>
<rect x="783.54" y="510.30" width="11.07" height="11.67" fill="#ffe5d0"/>
<rect x="872.11" y="510.30" width="11.67" height="11.67" fill="#ffe0cc"/>
<rect x="883.18" y="510.30" width="11.67" height="11.67" fill="#ffccbc"/>
<rect x="894.26" y="510.30" width="11.67" height="11.67" fill="#ffd2c1"/>
<rect x="905.33" y="510.30" width="22.74" height="11.67" fill="#ffccbc"/>
<rect x="927.47" y="510.30" width="22.14" height="11.67" fill="#ffe0cc"/>
<rect x="1004.98" y="510.30" width="11.07" height="11.67" fill="#ffe5d0"/>
<rect x="1027.12" y="510.30" width="55.96" height="11.67" fill="#ffe5d0"/>
<rect x="1082.48" y="510.30" width="11.67" height="11.67" fill="#ffe0cc"/>
<rect x="1093.55" y="510.30" width="11.07" height="11.67" fill="#ffe5d0"/>
<rect x="1115.70" y="510.30" width="11.07" height="11.67" fill="#ffe5d0"/>
<rect x="1171.06" y="510.30" width="11.07" height="11.67" fill="#ffe5d0"/>
<rect x="1193.20" y="510.30" width="11.67" height="11.67" fill="#ffe5d0"/>
<rect x="1204.27" y="510.30" width="11.67" height="11.67" fill="#ffd2c1"/>
<rect x="1215.34" y="510.30" width="33.82" height="11.67" fill="#ffe0cc"/>
<rect x="1248.56" y="510.30" width="11.07" height="11.67" fill="#ffe5d0"/>
<rect x="1281.78" y="510.30" width="22.14" height="11.67" fill="#ffe5d0"/>
<rect x="1337.14" y="510.30" width="11.67" height="11.67" fill="#ffe5d0"/>
<rect x="1348.21" y="510.30" width="33.82" height="11.67" fill="#ffe0cc"/>
<rect x="1381.42" y="510.30" width="11.67" height="11.67" fill="#ffd2c1"/>
<rect x="1392.50" y="510.30" width="11.67" height="11.67" fill="#ffe0cc"/>
<rect x="1403.57" y="510.30" width="11.07" height="11.67" fill="#ffd2c1"/>
<rect x="86.00" y="521.37" width="44.89" height="11.67" fill="#ffe0cc"/>
<rect x="130.29" y="521.37" width="11.67" height="11.67" fill="#ffd2c1"/>
<rect x="141.36" y="521.37" width="11.07" height="11.67" fill="#ffe5d0"/>
<rect x="174.58" y="521.37" width="11.07" height="11.67" fill="#ffe5d0"/>
<rect x="218.86" y="521.37" width="11.67" height="11.67" fill="#ffe5d0"/>
<rect x="229.94" y="521.37" width="22.74" height="11.67" fill="#ffbdaf"/>
<rect x="252.08" y="521.37" width="11.67" height="11.67" fill="#ff8d81"/>
<rect x="263.15" y="521.37" width="11.67" height="11.67" fill="#ffb3a7"/>
<rect x="274.22" y="521.37" width="22.74" height="11.67" fill="#ffbdaf"/>
<rect x="296.37" y="521.37" width="11.67" height="11.67" fill="#fe7468"/>
<rect x="307.44" y="521.37" width="11.07" height="11.67" fill="#ffe5d0"/>
<rect x="340.66" y="521.37" width="11.07" height="11.07" fill="#ffe5d0"/>
<rect x="362.80" y="521.37" width="11.67" height="11.67" fill="#ffe5d0"/>
<rect x="373.87" y="521.37" width="22.74" height="11.67" fill="#ffd2c1"/>
<rect x="396.02" y="521.37" width="11.67" height="11.67" fill="#ffdac7"/>
<rect x="407.09" y="521.37" width="11.67" height="11.67" fill="#ffe5d0"/>
<rect x="418.16" y="521.37" width="11.67" height="11.67" fill="#ffd2c1"/>
<rect x="429.23" y="521.37" width="11.67" height="11.67" fill="#ffdac7"/>
<rect x="440.30" y="521.37" width="33.22" height="11.67" fill="#ffe5d0"/>
<rect x="506.74" y="521.37" width="11.07" height="11.67" fill="#ffe5d0"/>
<rect x="528.88" y="521.37" width="11.67" height="11.67" fill="#ffa599"/>
<rect x="539.95" y="521.37" width="11.67" height="11.67" fill="#fe412a"/>
<rect x="551.02" y="521.37" width="11.67" height="11.67" fill="#ffccbc"/>
<rect x="562.10" y="521.37" width="11.67" height="11.67" fill="#ffe0cc"/>
<rect x="573.17" y="521.37" width="33.82" height="11.67" fill="#ffbdaf"/>
<rect x="606.38" y="521.37" width="11.67" height="11.67" fill="#fe5b4a"/>
<rect x="617.46" y="521.37" width="11.67" height="11.67" fill="#ffbdaf"/>
<rect x="628.53" y="521.37" width="11.67" height="11.67" fill="#ff8d81"/>
<rect x="639.60" y="521.37" width="11.07" height="11.67" fill="#ffe0cc"/>
<rect x="706.03" y="521.37" width="11.67" height="11.67" fill="#ffdac7"/>
<rect x="717.10" y="521.37" width="11.67" height="11.67" fill="#ffe5d0"/>
<rect x="728.18" y="521.37" width="22.74" height="11.67" fill="#ffdac7"/>
<rect x="750.32" y="521.37" width="22.74" height="11.67" fill="#ffe5d0"/>
<rect x="772.46" y="521.37" width="11.67" height="11.67" fill="#ffdac7"/>
<rect x="783.54" y="521.37" width="11.67" height="11.67" fill="#ffe5d0"/>
<rect x="794.61" y="521.37" width="44.29" height="11.67" fill="#ffdac7"/>
<rect x="861.04" y="521.37" width="11.67" height="11.67" fill="#ff8d81"/>
<rect x="872.11" y="521.37" width="11.67" height="11.67" fill="#ffccbc"/>
<rect x="883.18" y="521.37" width="11.67" height="11.67" fill="#fe5b4a"/>
<rect x="894.26" y="521.37" width="11.67" height="11.67" fill="#ffccbc"/>
<rect x="905.33" y="521.37" width="11.67" height="11.67" fill="#ffbdaf"/>
<rect x="916.40" y="521.37" width="11.67" height="11.67" fill="#ff8d81"/>
<rect x="927.47" y="521.37" width="11.67" height="11.67" fill="#fe412a"/>
<rect x="938.54" y="521.37" width="11.67" height="11.67" fill="#ffccbc"/>
<rect x="949.62" y="521.37" width="11.07" height="11.67" fill="#ffe0cc"/>
<rect x="1004.98" y="521.37" width="11.07" height="11.67" fill="#ffe5d0"/>
<rect x="1027.12" y="521.37" width="11.67" height="11.67" fill="#ffe5d0"/>
<rect x="1038.19" y="521.37" width="22.74" height="11.67" fill="#ffd2c1"/>
<rect x="1060.34" y="521.37" width="11.67" height="11.67" fill="#ffdac7"/>
<rect x="1071.41" y="521.37" width="11.67" height="11.67" fill="#ffccbc"/>
<rect x="1082.48" y="521.37" width="11.67" height="11.67" fill="#ffdac7"/>
<rect x="1093.55" y="521.37" width="11.07" height="11.67" fill="#ffe5d0"/>
<rect x="1115.70" y="521.37" width="11.07" height="11.67" fill="#ffe5d0"/>
<rect x="1171.06" y="521.37" width="11.67" height="11.67" fill="#ffe5d0"/>
<rect x="1182.13" y="521.37" width="11.67" height="11.67" fill="#ffbdaf"/>
<rect x="1193.20" y="521.37" width="11.67" height="11.67" fill="#ffb3a7"/>
<rect x="1204.27" y="521.37" width="11.67" height="11.67" fill="#fe8175"/>
<rect x="1215.34" y="521.37" width="11.67" height="11.67" fill="#ffa599"/>
<rect x="1226.42" y="521.37" width="11.67" height="11.67" fill="#ffccbc"/>
<rect x="1237.49" y="521.37" width="11.67" height="11.67" fill="#ff9c90"/>
<rect x="1248.56" y="521.37" width="11.07" height="11.67" fill="#ffe0cc"/>
<rect x="1281.78" y="521.37" width="11.07" height="11.67" fill="#ffe5d0"/>
<rect x="1337.14" y="521.37" width="11.67" height="11.67" fill="#ffe5d0"/>
<rect x="1348.21" y="521.37" width="22.74" height="11.67" fill="#ffd2c1"/>
<rect x="1370.35" y="521.37" width="11.67" height="11.67" fill="#ffe0cc"/>
<rect x="1381.42" y="521.37" width="11.67" height="11.67" fill="#ffd2c1"/>
<rect x="1392.50" y="521.37" width="11.67" height="11.67" fill="#ffbdaf"/>
<rect x="1403.57" y="521.37" width="11.07" height="11.67" fill="#ffe0cc"/>
<rect x="86.00" y="532.44" width="11.67" height="11.67" fill="#ffccbc"/>
<rect x="97.07" y="532.44" width="11.67" height="11.67" fill="#ff8d81"/>
<rect x="108.14" y="532.44" width="11.67" height="11.67" fill="#ffd2c1"/>
<rect x="119.22" y="532.44" width="11.67" height="11.67" fill="#ffccbc"/>
<rect x="130.29" y="532.44" width="11.67" height="11.67" fill="#ffe0cc"/>
<rect x="141.36" y="532.44" width="11.07" height="11.67" fill="#ffe5d0"/>
<rect x="174.58" y="532.44" width="11.07" height="11.67" fill="#ffe5d0"/>
<rect x="207.79" y="532.44" width="11.67" height="11.67" fill="#ffe0cc"/>
<rect x="218.86" y="532.44" width="11.67" height="11.67" fill="#ff9c90"/>
<rect x="229.94" y="532.44" width="22.74" height="11.67" fill="#ffbdaf"/>
<rect x="252.08" y="532.44" width="44.89" height="11.67" fill="#ffd2c1"/>
<rect x="296.37" y="532.44" width="11.67" height="11.67" fill="#fe7468"/>
<rect x="307.44" y="532.44" width="11.07" height="11.67" fill="#ff8d81"/>
<rect x="362.80" y="532.44" width="22.74" height="11.67" fill="#ffe5d0"/>
<rect x="384.94" y="532.44" width="11.67" height="11.67" fill="#ffe0cc"/>
<rect x="396.02" y="532.44" width="11.67" height="11.67" fill="#ffdac7"/>
<rect x="407.09" y="532.44" width="11.67" height="11.67" fill="#ffd2c1"/>
<rect x="418.16" y="532.44" width="11.67" height="11.67" fill="#ffbdaf"/>
<rect x="429.23" y="532.44" width="11.67" height="11.67" fill="#ffdac7"/>
<rect x="440.30" y="532.44" width="11.67" height="11.67" fill="#ffccbc"/>
<rect x="451.38" y="532.44" width="11.67" height="11.67" fill="#ffa599"/>
<rect x="462.45" y="532.44" width="22.74" height="11.67" fill="#ffb3a7"/>
<rect x="484.59" y="532.44" width="22.74" height="11.67" fill="#ffbdaf"/>
<rect x="506.74" y="532.44" width="11.67" height="11.67" fill="#ffb3a7"/>
<rect x="517.81" y="532.44" width="11.67" height="11.67" fill="#fe260a"/>
<rect x="528.88" y="532.44" width="11.67" height="11.67" fill="#fe5b4a"/>
<rect x="539.95" y="532.44" width="11.67" height="11.07" fill="#ffb3a7"/>
<rect x="551.02" y="532.44" width="11.67" height="11.67" fill="#ffbdaf"/>
<rect x="562.10" y="532.44" width="22.14" height="11.67" fill="#ffe5d0"/>
<rect x="595.31" y="532.44" width="11.67" height="11.07" fill="#ffe5d0"/>
<rect x="606.38" y="532.44" width="11.67" height="11.67" fill="#ffb3a7"/>
<rect x="617.46" y="532.44" width="11.67" height="11.67" fill="#ffd2c1"/>
<rect x="628.53" y="532.44" width="11.67" height="11.67" fill="#ff8d81"/>
<rect x="639.60" y="532.44" width="11.67" height="11.67" fill="#fe8175"/>
<rect x="650.67" y="532.44" width="11.07" height="11.67" fill="#ffd2c1"/>
<rect x="672.82" y="532.44" width="11.07" height="11.07" fill="#ffe5d0"/>
<rect x="694.96" y="532.44" width="11.67" height="11.67" fill="#ffe0cc"/>
<rect x="706.03" y="532.44" width="11.67" height="11.67" fill="#ffbdaf"/>
<rect x="717.10" y="532.44" width="11.67" height="11.67" fill="#ffccbc"/>
<rect x="728.18" y="532.44" width="11.67" height="11.67" fill="#ffa599"/>
<rect x="739.25" y="532.44" width="11.67" height="11.67" fill="#ff8d81"/>
<rect x="750.32" y="532.44" width="22.74" height="11.67" fill="#ffa599"/>
<rect x="772.46" y="532.44" width="11.67" height="11.67" fill="#ffb3a7"/>
<rect x="783.54" y="532.44" width="22.74" height="11.67" fill="#ff9c90"/>
<rect x="805.68" y="532.44" width="11.67" height="11.67" fill="#fe5b4a"/>
<rect x="816.75" y="532.44" width="22.74" height="11.67" fill="#ff8d81"/>
<rect x="838.90" y="532.44" width="11.67" height="11.67" fill="#ffa599"/>
<rect x="849.97" y="532.44" width="22.74" height="11.67" fill="#fe7468"/>
<rect x="872.11" y="532.44" width="11.67" height="11.67" fill="#fe260a"/>
<rect x="883.18" y="532.44" width="22.74" height="11.67" fill="#ffccbc"/>
<rect x="905.33" y="532.44" width="22.74" height="11.67" fill="#ffbdaf"/>
<rect x="927.47" y="532.44" width="11.67" height="11.67" fill="#ffccbc"/>
<rect x="938.54" y="532.44" width="11.67" height="11.67" fill="#fe5b4a"/>
<rect x="949.62" y="532.44" width="11.67" height="11.67" fill="#ffccbc"/>
<rect x="960.69" y="532.44" width="11.67" height="11.67" fill="#ffbdaf"/>
<rect x="971.76" y="532.44" width="11.07" height="11.67" fill="#ffe5d0"/>
<rect x="1004.98" y="532.44" width="11.07" height="11.67" fill="#ffe5d0"/>
<rect x="1027.12" y="532.44" width="11.67" height="11.67" fill="#ffe5d0"/>
<rect x="1038.19" y="532.44" width="22.74" height="11.67" fill="#ffdac7"/>
<rect x="1060.34" y="532.44" width="11.67" height="11.67" fill="#ffe0cc"/>
<rect x="1071.41" y="532.44" width="33.22" height="11.67" fill="#ffdac7"/>
<rect x="1115.70" y="532.44" width="11.07" height="11.67" fill="#ffe5d0"/>
<rect x="1159.98" y="532.44" width="11.67" height="11.67" fill="#ffe5d0"/>
<rect x="1171.06" y="532.44" width="11.67" height="11.67" fill="#ffe0cc"/>
<rect x="1182.13" y="532.44" width="11.67" height="11.67" fill="#ff8d81"/>
<rect x="1193.20" y="532.44" width="33.82" height="11.67" fill="#ff9c90"/>
<rect x="1226.42" y="532.44" width="11.67" height="11.67" fill="#ffccbc"/>
<rect x="1237.49" y="532.44" width="11.67" height="11.67" fill="#ff8d81"/>
<rect x="1248.56" y="532.44" width="11.67" height="11.67" fill="#fe412a"/>
<rect x="1259.63" y="532.44" width="11.67" height="11.67" fill="#ffbdaf"/>
<rect x="1270.70" y="532.44" width="11.67" height="11.67" fill="#ffe0cc"/>
<rect x="1281.78" y="532.44" width="11.07" height="11.67" fill="#ffe5d0"/>
<rect x="1337.14" y="532.44" width="11.67" height="11.67" fill="#ffe0cc"/>
<rect x="1348.21" y="532.44" width="11.67" height="11.67" fill="#ffd2c1"/>
<rect x="1359.28" y="532.44" width="11.67" height="11.67" fill="#ffe5d0"/>
<rect x="1370.35" y="532.44" width="11.67" height="11.67" fill="#ffbdaf"/>
<rect x="1381.42" y="532.44" width="33.22" height="11.67" fill="#ffe0cc"/>
<rect x="86.00" y="543.51" width="22.74" height="11.67" fill="#ffccbc"/>
<rect x="108.14" y="543.51" width="11.67" height="11.67" fill="#ffd2c1"/>
<rect x="119.22" y="543.51" width="11.67" height="11.67" fill="#ffb3a7"/>
<rect x="130.29" y="543.51" width="11.67" height="11.67" fill="#ffe0cc"/>
<rect x="141.36" y="543.51" width="22.74" height="11.67" fill="#ffb3a7"/>
<rect x="163.50" y="543.51" width="11.67" height="11.67" fill="#ff9c90"/>
<rect x="174.58" y="543.51" width="11.67" height="11.67" fill="#ffb3a7"/>
<rect x="185.65" y="543.51" width="11.67" height="11.67" fill="#ffccbc"/>
<rect x="196.72" y="543.51" width="11.67" height="11.67" fill="#ff9c90"/>
<rect x="207.79" y="543.51" width="11.67" height="11.67" fill="#fe412a"/>
<rect x="218.86" y="543.51" width="11.67" height="11.67" fill="#fe4e3a"/>
<rect x="229.94" y="543.51" width="33.82" height="11.67" fill="#ffd2c1"/>
<rect x="263.15" y="543.51" width="11.07" height="11.07" fill="#ffe0cc"/>
<rect x="285.30" y="543.51" width="11.67" height="11.07" fill="#ffe5d0"/>
<rect x="296.37" y="543.51" width="11.67" height="11.07" fill="#ffd2c1"/>
<rect x="307.44" y="543.51" width="11.67" height="11.67" fill="#fe412a"/>
<rect x="318.51" y="543.51" width="11.07" height="11.67" fill="#ffa599"/>
<rect x="362.80" y="543.51" width="11.67" height="11.67" fill="#ffe5d0"/>
<rect x="373.87" y="543.51" width="11.67" height="11.67" fill="#ffb3a7"/>
<rect x="384.94" y="543.51" width="11.67" height="11.67" fill="#ffa599"/>
<rect x="396.02" y="543.51" width="11.67" height="11.07" fill="#ffb3a7"/>
<rect x="407.09" y="543.51" width="33.82" height="11.67" fill="#ffa599"/>
<rect x="440.30" y="543.51" width="11.67" height="11.67" fill="#fe412a"/>
<rect x="451.38" y="543.51" width="11.67" height="11.67" fill="#ffd2c1"/>
<rect x="462.45" y="543.51" width="11.67" height="11.67" fill="#ff8d81"/>
<rect x="473.52" y="543.51" width="11.67" height="11.67" fill="#fe8175"/>
<rect x="484.59" y="543.51" width="11.67" height="11.67" fill="#fe260a"/>
<rect x="495.66" y="543.51" width="11.67" height="11.67" fill="#fe5b4a"/>
<rect x="506.74" y="543.51" width="22.74" height="11.67" fill="#ffbdaf"/>
<rect x="528.88" y="543.51" width="11.07" height="11.07" fill="#ffb3a7"/>
<rect x="551.02" y="543.51" width="22.14" height="11.67" fill="#ffe5d0"/>
<rect x="606.38" y="543.51" width="11.67" height="11.07" fill="#ffe5d0"/>
<rect x="617.46" y="543.51" width="11.67" height="11.07" fill="#ffe0cc"/>
<rect x="628.53" y="543.51" width="22.74" height="11.67" fill="#ffb3a7"/>
<rect x="650.67" y="543.51" width="11.07" height="11.67" fill="#ffccbc"/>
<rect x="683.89" y="543.51" width="11.67" height="11.07" fill="#ffe5d0"/>
<rect x="694.96" y="543.51" width="11.67" height="11.07" fill="#ffe0cc"/>
<rect x="706.03" y="543.51" width="11.67" height="11.07" fill="#ffd2c1"/>
<rect x="717.10" y="543.51" width="11.67" height="11.67" fill="#ffbdaf"/>
<rect x="728.18" y="543.51" width="11.67" height="11.67" fill="#ffe0cc"/>
<rect x="739.25" y="543.51" width="11.67" height="11.67" fill="#ffd2c1"/>
<rect x="750.32" y="543.51" width="11.67" height="11.07" fill="#ffe0cc"/>
<rect x="761.39" y="543.51" width="33.82" height="11.67" fill="#ffb3a7"/>
<rect x="794.61" y="543.51" width="11.67" height="11.67" fill="#fe412a"/>
<rect x="805.68" y="543.51" width="11.67" height="11.67" fill="#ffb3a7"/>
<rect x="816.75" y="543.51" width="11.67" height="11.67" fill="#fe8175"/>
<rect x="827.82" y="543.51" width="11.67" height="11.67" fill="#fe7468"/>
<rect x="838.90" y="543.51" width="11.67" height="11.07" fill="#ff8d81"/>
<rect x="849.97" y="543.51" width="11.67" height="11.67" fill="#fe7468"/>
<rect x="861.04" y="543.51" width="11.67" height="11.07" fill="#ffd2c1"/>
<rect x="872.11" y="543.51" width="11.67" height="11.07" fill="#ffccbc"/>
<rect x="883.18" y="543.51" width="11.67" height="11.67" fill="#ffe0cc"/>
<rect x="894.26" y="543.51" width="11.67" height="11.67" fill="#ffe5d0"/>
<rect x="905.33" y="543.51" width="33.82" height="11.67" fill="#ffd2c1"/>
<rect x="938.54" y="543.51" width="11.67" height="11.67" fill="#ffbdaf"/>
<rect x="949.62" y="543.51" width="11.67" height="11.67" fill="#ffe0cc"/>
<rect x="960.69" y="543.51" width="11.67" height="11.67" fill="#fe5b4a"/>
<rect x="971.76" y="543.51" width="11.67" height="11.67" fill="#ff8d81"/>
<rect x="982.83" y="543.51" width="11.07" height="11.67" fill="#ffe5d0"/>
<rect x="1004.98" y="543.51" width="11.07" height="11.67" fill="#ffe5d0"/>
<rect x="1027.12" y="543.51" width="11.67" height="11.67" fill="#ffe5d0"/>
<rect x="1038.19" y="543.51" width="11.67" height="11.67" fill="#ffccbc"/>
<rect x="1049.26" y="543.51" width="22.74" height="11.67" fill="#ffbdaf"/>
<rect x="1071.41" y="543.51" width="22.74" height="11.67" fill="#fe7468"/>
<rect x="1093.55" y="543.51" width="11.67" height="11.67" fill="#fe5b4a"/>
<rect x="1104.62" y="543.51" width="11.67" height="11.67" fill="#ffbdaf"/>
<rect x="1115.70" y="543.51" width="11.67" height="11.67" fill="#ffccbc"/>
<rect x="1126.77" y="543.51" width="11.67" height="11.67" fill="#ffb3a7"/>
<rect x="1137.84" y="543.51" width="11.67" height="11.67" fill="#ffd2c1"/>
<rect x="1148.91" y="543.51" width="11.67" height="11.67" fill="#ffccbc"/>
<rect x="1159.98" y="543.51" width="11.67" height="11.67" fill="#fe5b4a"/>
<rect x="1171.06" y="543.51" width="11.67" height="11.67" fill="#ffbdaf"/>
<rect x="1182.13" y="543.51" width="11.67" height="11.67" fill="#ffb3a7"/>
<rect x="1193.20" y="543.51" width="11.67" height="11.67" fill="#ffccbc"/>
<rect x="1204.27" y="543.51" width="11.67" height="11.67" fill="#ffe0cc"/>
<rect x="1215.34" y="543.51" width="11.67" height="11.67" fill="#ffbdaf"/>
<rect x="1226.42" y="543.51" width="11.67" height="11.07" fill="#ffe0cc"/>
<rect x="1237.49" y="543.51" width="11.67" height="11.07" fill="#ffd2c1"/>
<rect x="1248.56" y="543.51" width="11.67" height="11.67" fill="#ffb3a7"/>
<rect x="1259.63" y="543.51" width="22.74" height="11.67" fill="#fe412a"/>
<rect x="1281.78" y="543.51" width="22.14" height="11.67" fill="#ffe0cc"/>
<rect x="1337.14" y="543.51" width="11.67" height="11.67" fill="#ffe0cc"/>
<rect x="1348.21" y="543.51" width="11.67" height="11.67" fill="#ffd2c1"/>
<rect x="1359.28" y="543.51" width="11.67" height="11.67" fill="#ffbdaf"/>
<rect x="1370.35" y="543.51" width="33.82" height="11.67" fill="#ffa599"/>
<rect x="1403.57" y="543.51" width="11.07" height="11.67" fill="#ff8d81"/>
<rect x="86.00" y="554.58" width="11.67" height="11.07" fill="#ffccbc"/>
<rect x="97.07" y="554.58" width="22.74" height="11.07" fill="#ffd2c1"/>
<rect x="119.22" y="554.58" width="11.67" height="11.67" fill="#ffccbc"/>
<rect x="130.29" y="554.58" width="11.67" height="11.67" fill="#fe7468"/>
<rect x="141.36" y="554.58" width="22.74" height="11.67" fill="#fe5b4a"/>
<rect x="163.50" y="554.58" width="11.67" height="11.67" fill="#fe412a"/>
<rect x="174.58" y="554.58" width="11.67" height="11.67" fill="#ff9c90"/>
<rect x="185.65" y="554.58" width="11.67" height="11.67" fill="#fe260a"/>
<rect x="196.72" y="554.58" width="11.67" height="11.67" fill="#fe7468"/>
<rect x="207.79" y="554.58" width="11.67" height="11.67" fill="#ff8d81"/>
<rect x="218.86" y="554.58" width="11.67" height="11.07" fill="#ffccbc"/>
<rect x="229.94" y="554.58" width="11.07" height="11.67" fill="#ffe5d0"/>
<rect x="252.08" y="554.58" width="11.07" height="11.07" fill="#ffe5d0"/>
<rect x="307.44" y="554.58" width="33.22" height="11.67" fill="#ffd2c1"/>
<rect x="351.73" y="554.58" width="11.67" height="11.07" fill="#ffe5d0"/>
<rect x="362.80" y="554.58" width="11.67" height="11.67" fill="#ffbdaf"/>
<rect x="373.87" y="554.58" width="11.67" height="11.67" fill="#ffb3a7"/>
<rect x="384.94" y="554.58" width="11.07" height="11.67" fill="#ffe5d0"/>
<rect x="407.09" y="554.58" width="22.74" height="11.67" fill="#ffd2c1"/>
<rect x="429.23" y="554.58" width="11.67" height="11.07" fill="#ffe0cc"/>
<rect x="440.30" y="554.58" width="22.74" height="11.07" fill="#ffd2c1"/>
<rect x="462.45" y="554.58" width="22.74" height="11.67" fill="#ffb3a7"/>
<rect x="484.59" y="554.58" width="11.67" height="11.07" fill="#ffe0cc"/>
<rect x="495.66" y="554.58" width="11.67" height="11.07" fill="#ffbdaf"/>
<rect x="506.74" y="554.58" width="11.07" height="11.07" fill="#ffe5d0"/>
<rect x="562.10" y="554.58" width="11.07" height="11.07" fill="#ffe5d0"/>
<rect x="639.60" y="554.58" width="11.67" height="11.07" fill="#ffe0cc"/>
<rect x="650.67" y="554.58" width="11.67" height="11.07" fill="#ffccbc"/>
<rect x="661.74" y="554.58" width="11.67" height="11.07" fill="#ffb3a7"/>
<rect x="672.82" y="554.58" width="11.07" height="11.67" fill="#ffe5d0"/>
<rect x="717.10" y="554.58" width="33.22" height="11.67" fill="#ffe0cc"/>
<rect x="761.39" y="554.58" width="44.89" height="11.67" fill="#ffdac7"/>
<rect x="805.68" y="554.58" width="22.74" height="11.07" fill="#ffd2c1"/>
<rect x="827.82" y="554.58" width="11.07" height="11.07" fill="#ffbdaf"/>
<rect x="849.97" y="554.58" width="11.07" height="11.07" fill="#ffbdaf"/>
<rect x="883.18" y="554.58" width="22.14" height="11.07" fill="#ffe0cc"/>
<rect x="916.40" y="554.58" width="11.07" height="11.07" fill="#ffe5d0"/>
<rect x="938.54" y="554.58" width="11.67" height="11.67" fill="#ffe5d0"/>
<rect x="949.62" y="554.58" width="11.67" height="11.07" fill="#ffd2c1"/>
<rect x="960.69" y="554.58" width="11.67" height="11.67" fill="#ffccbc"/>
<rect x="971.76" y="554.58" width="11.67" height="11.67" fill="#fe5b4a"/>
<rect x="982.83" y="554.58" width="11.07" height="11.67" fill="#ff9c90"/>
<rect x="1004.98" y="554.58" width="11.07" height="11.67" fill="#ffe5d0"/>
<rect x="1027.12" y="554.58" width="11.67" height="11.67" fill="#ffb3a7"/>
<rect x="1038.19" y="554.58" width="11.67" height="11.67" fill="#ffa599"/>
<rect x="1049.26" y="554.58" width="11.67" height="11.67" fill="#ff8d81"/>
<rect x="1060.34" y="554.58" width="22.74" height="11.67" fill="#ffccbc"/>
<rect x="1082.48" y="554.58" width="11.67" height="11.67" fill="#ffd2c1"/>
<rect x="1093.55" y="554.58" width="11.67" height="11.67" fill="#fe7468"/>
<rect x="1104.62" y="554.58" width="11.67" height="11.67" fill="#fe260a"/>
<rect x="1115.70" y="554.58" width="11.67" height="11.67" fill="#ff8d81"/>
<rect x="1126.77" y="554.58" width="11.67" height="11.67" fill="#fe5b4a"/>
<rect x="1137.84" y="554.58" width="11.67" height="11.67" fill="#fe260a"/>
<rect x="1148.91" y="554.58" width="11.67" height="11.67" fill="#fe331a"/>
<rect x="1159.98" y="554.58" width="11.67" height="11.67" fill="#ffa599"/>
<rect x="1171.06" y="554.58" width="11.67" height="11.07" fill="#ffd2c1"/>
<rect x="1182.13" y="554.58" width="44.29" height="11.07" fill="#ffe0cc"/>
<rect x="1248.56" y="554.58" width="11.67" height="11.07" fill="#ffd2c1"/>
<rect x="1259.63" y="554.58" width="11.67" height="11.67" fill="#ffa599"/>
<rect x="1270.70" y="554.58" width="11.67" height="11.67" fill="#ffb3a7"/>
<rect x="1281.78" y="554.58" width="22.14" height="11.67" fill="#ffd2c1"/>
<rect x="1314.99" y="554.58" width="11.67" height="11.07" fill="#ffe5d0"/>
<rect x="1326.06" y="554.58" width="11.67" height="11.67" fill="#ffd2c1"/>
<rect x="1337.14" y="554.58" width="11.67" height="11.67" fill="#ffbdaf"/>
<rect x="1348.21" y="554.58" width="22.74" height="11.67" fill="#ffa599"/>
<rect x="1370.35" y="554.58" width="11.67" height="11.67" fill="#ffccbc"/>
<rect x="1381.42" y="554.58" width="33.22" height="11.67" fill="#ffd2c1"/>
<rect x="119.22" y="565.66" width="11.67" height="11.07" fill="#ffccbc"/>
<rect x="130.29" y="565.66" width="11.67" height="11.07" fill="#ffd2c1"/>
<rect x="141.36" y="565.66" width="33.82" height="11.67" fill="#ffa599"/>
<rect x="174.58" y="565.66" width="11.67" height="11.67" fill="#ffccbc"/>
<rect x="185.65" y="565.66" width="11.67" height="11.67" fill="#ff9c90"/>
<rect x="196.72" y="565.66" width="11.67" height="11.07" fill="#ff8d81"/>
<rect x="207.79" y="565.66" width="11.07" height="11.07" fill="#ffccbc"/>
<rect x="229.94" y="565.66" width="11.07" height="11.07" fill="#ffe5d0"/>
<rect x="307.44" y="565.66" width="11.67" height="11.07" fill="#ffd2c1"/>
<rect x="318.51" y="565.66" width="11.67" height="11.67" fill="#ffa599"/>
<rect x="329.58" y="565.66" width="11.07" height="11.67" fill="#ffbdaf"/>
<rect x="362.80" y="565.66" width="22.74" height="11.67" fill="#ffe5d0"/>
<rect x="384.94" y="565.66" width="44.29" height="11.67" fill="#ffe0cc"/>
<rect x="462.45" y="565.66" width="11.07" height="11.07" fill="#ffe5d0"/>
<rect x="672.82" y="565.66" width="11.07" height="11.67" fill="#ffe5d0"/>
<rect x="728.18" y="565.66" width="11.07" height="11.67" fill="#ffe5d0"/>
<rect x="783.54" y="565.66" width="11.07" height="11.67" fill="#ffe0cc"/>
<rect x="838.90" y="565.66" width="11.07" height="11.67" fill="#ffe5d0"/>
<rect x="938.54" y="565.66" width="11.07" height="11.07" fill="#ffe5d0"/>
<rect x="960.69" y="565.66" width="11.67" height="11.07" fill="#ffd2c1"/>
<rect x="971.76" y="565.66" width="11.67" height="11.07" fill="#ffe0cc"/>
<rect x="982.83" y="565.66" width="22.74" height="11.67" fill="#ffd2c1"/>
<rect x="1004.98" y="565.66" width="11.07" height="11.07" fill="#ffe5d0"/>
<rect x="1027.12" y="565.66" width="11.67" height="11.67" fill="#ffe0cc"/>
<rect x="1038.19" y="565.66" width="11.67" height="11.07" fill="#ffd2c1"/>
<rect x="1049.26" y="565.66" width="22.74" height="11.67" fill="#ffe0cc"/>
<rect x="1071.41" y="565.66" width="22.74" height="11.07" fill="#ffe5d0"/>
<rect x="1093.55" y="565.66" width="22.74" height="11.67" fill="#ffbdaf"/>
<rect x="1115.70" y="565.66" width="11.67" height="11.67" fill="#ffe5d0"/>
<rect x="1126.77" y="565.66" width="11.67" height="11.67" fill="#ffa599"/>
<rect x="1137.84" y="565.66" width="11.67" height="11.67" fill="#ffbdaf"/>
<rect x="1148.91" y="565.66" width="11.67" height="11.67" fill="#ffa599"/>
<rect x="1159.98" y="565.66" width="11.07" height="11.07" fill="#ffbdaf"/>
<rect x="1226.42" y="565.66" width="11.07" height="11.07" fill="#ffe5d0"/>
<rect x="1259.63" y="565.66" width="11.67" height="11.07" fill="#ffe5d0"/>
<rect x="1270.70" y="565.66" width="11.67" height="11.67" fill="#ffd2c1"/>
<rect x="1281.78" y="565.66" width="33.22" height="11.67" fill="#ffccbc"/>
<rect x="1326.06" y="565.66" width="11.67" height="11.07" fill="#ffe0cc"/>
<rect x="1337.14" y="565.66" width="11.67" height="11.67" fill="#ffd2c1"/>
<rect x="1348.21" y="565.66" width="11.67" height="11.07" fill="#ffccbc"/>
<rect x="1359.28" y="565.66" width="11.67" height="11.07" fill="#ffbdaf"/>
<rect x="1370.35" y="565.66" width="11.67" height="11.67" fill="#ffe0cc"/>
<rect x="1381.42" y="565.66" width="11.67" height="11.07" fill="#ffd2c1"/>
<rect x="1392.50" y="565.66" width="11.67" height="11.67" fill="#ffe0cc"/>
<rect x="1403.57" y="565.66" width="11.07" height="11.07" fill="#ffd2c1"/>
<rect x="141.36" y="576.73" width="11.67" height="11.07" fill="#ffe5d0"/>
<rect x="152.43" y="576.73" width="11.07" height="11.07" fill="#ffe0cc"/>
<rect x="174.58" y="576.73" width="22.14" height="11.07" fill="#ffe5d0"/>
<rect x="285.30" y="576.73" width="11.07" height="11.67" fill="#ffe5d0"/>
<rect x="318.51" y="576.73" width="11.67" height="11.07" fill="#ffe0cc"/>
<rect x="329.58" y="576.73" width="11.67" height="11.07" fill="#ffd2c1"/>
<rect x="340.66" y="576.73" width="11.07" height="11.07" fill="#ffe0cc"/>
<rect x="362.80" y="576.73" width="11.07" height="11.07" fill="#ffe5d0"/>
<rect x="384.94" y="576.73" width="11.07" height="11.07" fill="#ffe5d0"/>
<rect x="451.38" y="576.73" width="11.07" height="11.07" fill="#ffe5d0"/>
<rect x="562.10" y="576.73" width="11.07" height="11.67" fill="#ffe5d0"/>
<rect x="617.46" y="576.73" width="11.07" height="11.67" fill="#ffe0cc"/>
<rect x="672.82" y="576.73" width="11.07" height="11.67" fill="#ffe5d0"/>
<rect x="728.18" y="576.73" width="11.07" height="11.07" fill="#ffe5d0"/>
<rect x="783.54" y="576.73" width="11.07" height="11.67" fill="#ffe0cc"/>
<rect x="838.90" y="576.73" width="11.07" height="11.07" fill="#ffe5d0"/>
<rect x="894.26" y="576.73" width="11.07" height="11.67" fill="#ffe5d0"/>
<rect x="982.83" y="576.73" width="22.14" height="11.07" fill="#ffe0cc"/>
<rect x="1016.05" y="576.73" width="22.14" height="11.07" fill="#ffe5d0"/>
<rect x="1060.34" y="576.73" width="11.07" height="11.07" fill="#ffe5d0"/>
<rect x="1104.62" y="576.73" width="11.67" height="11.07" fill="#ffe0cc"/>
<rect x="1115.70" y="576.73" width="11.67" height="11.67" fill="#ffd2c1"/>
<rect x="1126.77" y="576.73" width="33.22" height="11.07" fill="#ffe0cc"/>
<rect x="1270.70" y="576.73" width="11.07" height="11.07" fill="#ffd2c1"/>
<rect x="1292.85" y="576.73" width="22.14" height="11.07" fill="#ffccbc"/>
<rect x="1337.14" y="576.73" width="11.07" height="11.07" fill="#ffe0cc"/>
<rect x="1370.35" y="576.73" width="11.07" height="11.07" fill="#ffe0cc"/>
<rect x="1392.50" y="576.73" width="11.07" height="11.67" fill="#ffe5d0"/>
<rect x="119.22" y="587.80" width="11.07" height="11.07" fill="#ffe5d0"/>
<rect x="218.86" y="587.80" width="22.14" height="11.67" fill="#ffe5d0"/>
<rect x="285.30" y="587.80" width="11.07" height="11.07" fill="#ffe5d0"/>
<rect x="562.10" y="587.80" width="11.07" height="11.67" fill="#ffe5d0"/>
<rect x="617.46" y="587.80" width="11.07" height="11.67" fill="#ffe5d0"/>
<rect x="672.82" y="587.80" width="11.07" height="11.67" fill="#ffe5d0"/>
<rect x="783.54" y="587.80" width="11.07" height="11.67" fill="#ffe0cc"/>
<rect x="894.26" y="587.80" width="11.07" height="11.07" fill="#ffe5d0"/>
<rect x="949.62" y="587.80" width="11.07" height="11.07" fill="#ffe0cc"/>
<rect x="1004.98" y="587.80" width="11.07" height="11.67" fill="#ffe5d0"/>
<rect x="1049.26" y="587.80" width="11.07" height="11.07" fill="#ffe5d0"/>
<rect x="1115.70" y="587.80" width="11.07" height="11.67" fill="#ffe5d0"/>
<rect x="1171.06" y="587.80" width="11.07" height="11.67" fill="#ffe5d0"/>
<rect x="1237.49" y="587.80" width="11.07" height="11.07" fill="#ffe5d0"/>
<rect x="1281.78" y="587.80" width="11.07" height="11.67" fill="#ffe5d0"/>
<rect x="1392.50" y="587.80" width="11.07" height="11.07" fill="#ffe5d0"/>
<rect x="174.58" y="598.87" width="11.07" height="11.67" fill="#ffe5d0"/>
<rect x="229.94" y="598.87" width="11.07" height="11.07" fill="#ffe5d0"/>
<rect x="274.22" y="598.87" width="11.07" height="11.67" fill="#ffe5d0"/>
<rect x="296.37" y="598.87" width="11.07" height="11.07" fill="#ffe5d0"/>
<rect x="396.02" y="598.87" width="11.07" height="11.67" fill="#ffe5d0"/>
<rect x="451.38" y="598.87" width="11.07" height="11.07" fill="#ffe5d0"/>
<rect x="562.10" y="598.87" width="11.07" height="11.67" fill="#ffe5d0"/>
<rect x="617.46" y="598.87" width="11.07" height="11.07" fill="#ffe5d0"/>
<rect x="672.82" y="598.87" width="11.07" height="11.67" fill="#ffe5d0"/>
<rect x="728.18" y="598.87" width="11.07" height="11.67" fill="#ffe5d0"/>
<rect x="783.54" y="598.87" width="11.07" height="11.67" fill="#ffe0cc"/>
<rect x="838.90" y="598.87" width="11.07" height="11.67" fill="#ffe5d0"/>
<rect x="1004.98" y="598.87" width="11.07" height="11.07" fill="#ffe5d0"/>
<rect x="1060.34" y="598.87" width="11.07" height="11.67" fill="#ffe5d0"/>
<rect x="1115.70" y="598.87" width="11.07" height="11.67" fill="#ffe5d0"/>
<rect x="1171.06" y="598.87" width="11.67" height="11.67" fill="#ffe0cc"/>
<rect x="1182.13" y="598.87" width="11.07" height="11.07" fill="#ffe5d0"/>
<rect x="1226.42" y="598.87" width="11.07" height="11.67" fill="#ffe0cc"/>
<rect x="1281.78" y="598.87" width="22.14" height="11.67" fill="#ffe5d0"/>
<rect x="86.00" y="609.94" width="11.67" height="11.67" fill="#ffe5d0"/>
<rect x="97.07" y="609.94" width="33.22" height="11.67" fill="#ffd2c1"/>
<rect x="174.58" y="609.94" width="11.07" height="11.67" fill="#ffe5d0"/>
<rect x="274.22" y="609.94" width="22.14" height="11.67" fill="#ffe5d0"/>
<rect x="318.51" y="609.94" width="33.22" height="11.67" fill="#ffe5d0"/>
<rect x="384.94" y="609.94" width="11.67" height="11.67" fill="#ffd2c1"/>
<rect x="396.02" y="609.94" width="11.67" height="11.67" fill="#ffe0cc"/>
<rect x="407.09" y="609.94" width="11.67" height="11.67" fill="#ffccbc"/>
<rect x="418.16" y="609.94" width="11.67" height="11.67" fill="#ffd2c1"/>
<rect x="429.23" y="609.94" width="11.07" height="11.67" fill="#ffccbc"/>
<rect x="506.74" y="609.94" width="11.07" height="11.07" fill="#ffe5d0"/>
<rect x="551.02" y="609.94" width="22.14" height="11.67" fill="#ffe5d0"/>
<rect x="628.53" y="609.94" width="11.07" height="11.07" fill="#ffe5d0"/>
<rect x="650.67" y="609.94" width="33.82" height="11.67" fill="#ffccbc"/>
<rect x="683.89" y="609.94" width="11.67" height="11.67" fill="#ffa599"/>
<rect x="694.96" y="609.94" width="11.67" height="11.67" fill="#ffccbc"/>
<rect x="706.03" y="609.94" width="11.67" height="11.67" fill="#ffe0cc"/>
<rect x="717.10" y="609.94" width="11.67" height="11.67" fill="#ffd2c1"/>
<rect x="728.18" y="609.94" width="22.74" height="11.67" fill="#ffe0cc"/>
<rect x="750.32" y="609.94" width="11.67" height="11.67" fill="#ffd2c1"/>
<rect x="761.39" y="609.94" width="11.67" height="11.67" fill="#ffe0cc"/>
<rect x="772.46" y="609.94" width="11.67" height="11.67" fill="#ffd2c1"/>
<rect x="783.54" y="609.94" width="11.07" height="11.67" fill="#ffe0cc"/>
<rect x="838.90" y="609.94" width="11.07" height="11.67" fill="#ffe5d0"/>
<rect x="883.18" y="609.94" width="22.14" height="11.07" fill="#ffe0cc"/>
<rect x="949.62" y="609.94" width="11.07" height="11.07" fill="#ffe0cc"/>
<rect x="1060.34" y="609.94" width="11.07" height="11.67" fill="#ffe5d0"/>
<rect x="1082.48" y="609.94" width="11.07" height="11.67" fill="#ffe5d0"/>
<rect x="1115.70" y="609.94" width="11.07" height="11.67" fill="#ffe5d0"/>
<rect x="1171.06" y="609.94" width="11.07" height="11.67" fill="#ffe5d0"/>
<rect x="1215.34" y="609.94" width="11.67" height="11.07" fill="#ffe5d0"/>
<rect x="1226.42" y="609.94" width="11.67" height="11.67" fill="#ffe0cc"/>
<rect x="1237.49" y="609.94" width="22.14" height="11.07" fill="#ffe5d0"/>
<rect x="1281.78" y="609.94" width="11.07" height="11.67" fill="#ffe5d0"/>
<rect x="1337.14" y="609.94" width="11.07" height="11.67" fill="#ffe5d0"/>
<rect x="1370.35" y="609.94" width="11.67" height="11.67" fill="#ffe0cc"/>
<rect x="1381.42" y="609.94" width="11.67" height="11.67" fill="#ffd2c1"/>
<rect x="1392.50" y="609.94" width="11.67" height="11.67" fill="#ffe5d0"/>
<rect x="1403.57" y="609.94" width="11.07" height="11.67" fill="#ffd2c1"/>
<rect x="86.00" y="621.02" width="11.67" height="11.67" fill="#ffd2c1"/>
<rect x="97.07" y="621.02" width="11.67" height="11.67" fill="#ffe0cc"/>
<rect x="108.14" y="621.02" width="11.67" height="11.07" fill="#ffbdaf"/>
<rect x="119.22" y="621.02" width="11.67" height="11.67" fill="#ffe0cc"/>
<rect x="130.29" y="621.02" width="11.67" height="11.67" fill="#ffbdaf"/>
<rect x="141.36" y="621.02" width="11.07" height="11.67" fill="#ffe5d0"/>
<rect x="174.58" y="621.02" width="11.07" height="11.67" fill="#ffe5d0"/>
<rect x="218.86" y="621.02" width="22.14" height="11.67" fill="#ffe5d0"/>
<rect x="274.22" y="621.02" width="33.22" height="11.67" fill="#ffe5d0"/>
<rect x="318.51" y="621.02" width="11.67" height="11.67" fill="#ffa599"/>
<rect x="329.58" y="621.02" width="11.67" height="11.67" fill="#fe5b4a"/>
<rect x="340.66" y="621.02" width="22.74" height="11.67" fill="#ff8d81"/>
<rect x="362.80" y="621.02" width="11.67" height="11.67" fill="#fe8175"/>
<rect x="373.87" y="621.02" width="11.67" height="11.67" fill="#ffccbc"/>
<rect x="384.94" y="621.02" width="11.67" height="11.67" fill="#ffa599"/>
<rect x="396.02" y="621.02" width="11.67" height="11.67" fill="#ffe0cc"/>
<rect x="407.09" y="621.02" width="11.67" height="11.07" fill="#ff9c90"/>
<rect x="418.16" y="621.02" width="11.67" height="11.07" fill="#ffd2c1"/>
<rect x="429.23" y="621.02" width="11.67" height="11.07" fill="#ff8d81"/>
<rect x="440.30" y="621.02" width="11.67" height="11.07" fill="#ffccbc"/>
<rect x="451.38" y="621.02" width="11.07" height="11.67" fill="#ffe5d0"/>
<rect x="562.10" y="621.02" width="22.14" height="11.67" fill="#ffe0cc"/>
<rect x="617.46" y="621.02" width="11.07" height="11.67" fill="#ffe5d0"/>
<rect x="639.60" y="621.02" width="11.67" height="11.07" fill="#ffbdaf"/>
<rect x="650.67" y="621.02" width="11.67" height="11.67" fill="#fe412a"/>
<rect x="661.74" y="621.02" width="11.67" height="11.07" fill="#fe260a"/>
<rect x="672.82" y="621.02" width="11.67" height="11.67" fill="#ffa599"/>
<rect x="683.89" y="621.02" width="22.74" height="11.67" fill="#fe412a"/>
<rect x="706.03" y="621.02" width="11.67" height="11.67" fill="#ffe0cc"/>
<rect x="717.10" y="621.02" width="11.67" height="11.67" fill="#ffccbc"/>
<rect x="728.18" y="621.02" width="11.67" height="11.67" fill="#ffe0cc"/>
<rect x="739.25" y="621.02" width="22.74" height="11.07" fill="#ffd2c1"/>
<rect x="761.39" y="621.02" width="22.74" height="11.67" fill="#ffccbc"/>
<rect x="783.54" y="621.02" width="11.07" height="11.67" fill="#ffd2c1"/>
<rect x="838.90" y="621.02" width="11.07" height="11.67" fill="#ffe5d0"/>
<rect x="960.69" y="621.02" width="22.74" height="11.67" fill="#ffe5d0"/>
<rect x="982.83" y="621.02" width="11.67" height="11.67" fill="#ff8d81"/>
<rect x="993.90" y="621.02" width="11.67" height="11.67" fill="#fe412a"/>
<rect x="1004.98" y="621.02" width="11.67" height="11.67" fill="#ff8d81"/>
<rect x="1016.05" y="621.02" width="11.67" height="11.67" fill="#fe675a"/>
<rect x="1027.12" y="621.02" width="22.74" height="11.67" fill="#ffbdaf"/>
<rect x="1049.26" y="621.02" width="11.67" height="11.67" fill="#ffccbc"/>
<rect x="1060.34" y="621.02" width="22.74" height="11.67" fill="#ffe0cc"/>
<rect x="1082.48" y="621.02" width="11.67" height="11.67" fill="#ffa599"/>
<rect x="1093.55" y="621.02" width="11.07" height="11.67" fill="#ffe5d0"/>
<rect x="1115.70" y="621.02" width="11.07" height="11.67" fill="#ffe5d0"/>
<rect x="1171.06" y="621.02" width="22.14" height="11.67" fill="#ffe5d0"/>
<rect x="1226.42" y="621.02" width="11.07" height="11.67" fill="#ffe5d0"/>
<rect x="1281.78" y="621.02" width="11.67" height="11.67" fill="#ffb3a7"/>
<rect x="1292.85" y="621.02" width="11.67" height="11.67" fill="#ff8d81"/>
<rect x="1303.92" y="621.02" width="33.82" height="11.67" fill="#fe5b4a"/>
<rect x="1337.14" y="621.02" width="11.67" height="11.67" fill="#ffe0cc"/>
<rect x="1348.21" y="621.02" width="11.67" height="11.67" fill="#ffccbc"/>
<rect x="1359.28" y="621.02" width="22.74" height="11.67" fill="#ffd2c1"/>
<rect x="1381.42" y="621.02" width="11.67" height="11.07" fill="#ffbdaf"/>
<rect x="1392.50" y="621.02" width="11.67" height="11.07" fill="#ffe0cc"/>
<rect x="1403.57" y="621.02" width="11.07" height="11.67" fill="#ffb3a7"/>
<rect x="86.00" y="632.09" width="22.14" height="11.67" fill="#ffe5d0"/>
<rect x="119.22" y="632.09" width="11.67" height="11.67" fill="#ffd2c1"/>
<rect x="130.29" y="632.09" width="11.67" height="11.67" fill="#ffa599"/>
<rect x="141.36" y="632.09" width="11.07" height="11.67" fill="#ffe5d0"/>
<rect x="174.58" y="632.09" width="11.07" height="11.67" fill="#ffe5d0"/>
<rect x="229.94" y="632.09" width="22.74" height="11.67" fill="#ffe5d0"/>
<rect x="252.08" y="632.09" width="55.36" height="11.67" fill="#ffd2c1"/>
<rect x="318.51" y="632.09" width="11.67" height="11.67" fill="#ff8d81"/>
<rect x="329.58" y="632.09" width="11.67" height="11.67" fill="#fe412a"/>
<rect x="340.66" y="632.09" width="11.67" height="11.67" fill="#ffb3a7"/>
<rect x="351.73" y="632.09" width="11.67" height="11.07" fill="#fe260a"/>
<rect x="362.80" y="632.09" width="11.67" height="11.67" fill="#fe8175"/>
<rect x="373.87" y="632.09" width="11.67" height="11.67" fill="#ffd2c1"/>
<rect x="384.94" y="632.09" width="22.14" height="11.67" fill="#ffe0cc"/>
<rect x="451.38" y="632.09" width="22.14" height="11.67" fill="#ffe5d0"/>
<rect x="517.81" y="632.09" width="11.07" height="11.67" fill="#ffe5d0"/>
<rect x="551.02" y="632.09" width="11.67" height="11.67" fill="#ffe0cc"/>
<rect x="562.10" y="632.09" width="22.74" height="11.67" fill="#ffccbc"/>
<rect x="584.24" y="632.09" width="22.14" height="11.67" fill="#ffe0cc"/>
<rect x="617.46" y="632.09" width="22.14" height="11.67" fill="#ffe0cc"/>
<rect x="650.67" y="632.09" width="11.07" height="11.67" fill="#ffbdaf"/>
<rect x="672.82" y="632.09" width="33.82" height="11.67" fill="#ffe0cc"/>
<rect x="706.03" y="632.09" width="33.22" height="11.67" fill="#ffe5d0"/>
<rect x="761.39" y="632.09" width="11.07" height="11.67" fill="#ffe0cc"/>
<rect x="783.54" y="632.09" width="11.67" height="11.67" fill="#ffd2c1"/>
<rect x="794.61" y="632.09" width="22.14" height="11.67" fill="#ffe0cc"/>
<rect x="827.82" y="632.09" width="22.74" height="11.67" fill="#ffe0cc"/>
<rect x="849.97" y="632.09" width="11.07" height="11.67" fill="#ffe5d0"/>
<rect x="883.18" y="632.09" width="11.67" height="11.67" fill="#ffe0cc"/>
<rect x="894.26" y="632.09" width="11.67" height="11.67" fill="#ffd2c1"/>
<rect x="905.33" y="632.09" width="11.67" height="11.67" fill="#ffccbc"/>
<rect x="916.40" y="632.09" width="11.67" height="11.67" fill="#ffd2c1"/>
<rect x="927.47" y="632.09" width="11.07" height="11.67" fill="#ffe5d0"/>
<rect x="949.62" y="632.09" width="11.67" height="11.67" fill="#ffe0cc"/>
<rect x="960.69" y="632.09" width="11.67" height="11.67" fill="#ffe5d0"/>
<rect x="971.76" y="632.09" width="11.67" height="11.67" fill="#ffe0cc"/>
<rect x="982.83" y="632.09" width="11.67" height="11.67" fill="#ff9c90"/>
<rect x="993.90" y="632.09" width="11.67" height="11.07" fill="#fe5b4a"/>
<rect x="1004.98" y="632.09" width="11.67" height="11.07" fill="#ff9c90"/>
<rect x="1016.05" y="632.09" width="11.67" height="11.67" fill="#fe260a"/>
<rect x="1027.12" y="632.09" width="11.67" height="11.67" fill="#ff9c90"/>
<rect x="1038.19" y="632.09" width="11.67" height="11.67" fill="#ffd2c1"/>
<rect x="1049.26" y="632.09" width="22.74" height="11.67" fill="#ffe0cc"/>
<rect x="1071.41" y="632.09" width="11.67" height="11.67" fill="#ffa599"/>
<rect x="1082.48" y="632.09" width="11.67" height="11.67" fill="#ffd2c1"/>
<rect x="1093.55" y="632.09" width="11.07" height="11.67" fill="#ffe5d0"/>
<rect x="1115.70" y="632.09" width="11.07" height="11.67" fill="#ffe5d0"/>
<rect x="1137.84" y="632.09" width="11.07" height="11.67" fill="#ffe5d0"/>
<rect x="1171.06" y="632.09" width="22.14" height="11.67" fill="#ffe5d0"/>
<rect x="1215.34" y="632.09" width="11.67" height="11.67" fill="#ffe5d0"/>
<rect x="1226.42" y="632.09" width="11.67" height="11.67" fill="#ffe0cc"/>
<rect x="1237.49" y="632.09" width="11.07" height="11.67" fill="#ffe5d0"/>
<rect x="1281.78" y="632.09" width="11.67" height="11.07" fill="#ffccbc"/>
<rect x="1292.85" y="632.09" width="44.89" height="11.67" fill="#fe5b4a"/>
<rect x="1337.14" y="632.09" width="11.67" height="11.67" fill="#ffe0cc"/>
<rect x="1348.21" y="632.09" width="33.22" height="11.67" fill="#ffd2c1"/>
<rect x="1403.57" y="632.09" width="11.07" height="11.67" fill="#ffe0cc"/>
<rect x="86.00" y="643.16" width="11.67" height="11.67" fill="#ff9c90"/>
<rect x="97.07" y="643.16" width="22.74" height="11.67" fill="#ff8d81"/>
<rect x="119.22" y="643.16" width="11.67" height="11.67" fill="#ffbdaf"/>
<rect x="130.29" y="643.16" width="11.67" height="11.67" fill="#ffe5d0"/>
<rect x="141.36" y="643.16" width="11.67" height="11.67" fill="#ffd2c1"/>
<rect x="152.43" y="643.16" width="33.82" height="11.67" fill="#ffbdaf"/>
<rect x="185.65" y="643.16" width="55.96" height="11.67" fill="#ffccbc"/>
<rect x="241.01" y="643.16" width="22.74" height="11.67" fill="#ffbdaf"/>
<rect x="263.15" y="643.16" width="11.67" height="11.67" fill="#ffa599"/>
<rect x="274.22" y="643.16" width="11.67" height="11.67" fill="#ffb3a7"/>
<rect x="285.30" y="643.16" width="22.74" height="11.67" fill="#ff8d81"/>
<rect x="307.44" y="643.16" width="11.67" height="11.67" fill="#ffd2c1"/>
<rect x="318.51" y="643.16" width="11.67" height="11.67" fill="#ffbdaf"/>
<rect x="329.58" y="643.16" width="22.14" height="11.67" fill="#ffe5d0"/>
<rect x="362.80" y="643.16" width="11.67" height="11.67" fill="#ffe5d0"/>
<rect x="373.87" y="643.16" width="11.67" height="11.67" fill="#ffbdaf"/>
<rect x="384.94" y="643.16" width="33.82" height="11.67" fill="#ff8d81"/>
<rect x="418.16" y="643.16" width="11.67" height="11.67" fill="#fe5b4a"/>
<rect x="429.23" y="643.16" width="11.67" height="11.67" fill="#ff8d81"/>
<rect x="440.30" y="643.16" width="11.67" height="11.67" fill="#fe412a"/>
<rect x="451.38" y="643.16" width="11.67" height="11.67" fill="#ff8d81"/>
<rect x="462.45" y="643.16" width="11.67" height="11.67" fill="#fe5b4a"/>
<rect x="473.52" y="643.16" width="11.67" height="11.67" fill="#fe412a"/>
<rect x="484.59" y="643.16" width="11.67" height="11.67" fill="#fe5b4a"/>
<rect x="495.66" y="643.16" width="11.67" height="11.67" fill="#fe331a"/>
<rect x="506.74" y="643.16" width="11.67" height="11.67" fill="#ff8d81"/>
<rect x="517.81" y="643.16" width="11.67" height="11.67" fill="#fe412a"/>
<rect x="528.88" y="643.16" width="11.67" height="11.67" fill="#fe5b4a"/>
<rect x="539.95" y="643.16" width="11.67" height="11.67" fill="#fe7468"/>
<rect x="551.02" y="643.16" width="22.74" height="11.67" fill="#ffa599"/>
<rect x="573.17" y="643.16" width="11.67" height="11.67" fill="#ff8d81"/>
<rect x="584.24" y="643.16" width="22.74" height="11.67" fill="#fe7468"/>
<rect x="606.38" y="643.16" width="11.67" height="11.67" fill="#fe8175"/>
<rect x="617.46" y="643.16" width="11.67" height="11.67" fill="#ffbdaf"/>
<rect x="628.53" y="643.16" width="11.67" height="11.67" fill="#fe7468"/>
<rect x="639.60" y="643.16" width="11.67" height="11.67" fill="#fe5b4a"/>
<rect x="650.67" y="643.16" width="11.07" height="11.67" fill="#ffe5d0"/>
<rect x="672.82" y="643.16" width="11.67" height="11.67" fill="#ffd2c1"/>
<rect x="683.89" y="643.16" width="11.67" height="11.67" fill="#ffe5d0"/>
<rect x="694.96" y="643.16" width="11.67" height="11.67" fill="#ffd2c1"/>
<rect x="706.03" y="643.16" width="11.67" height="11.67" fill="#fe7468"/>
<rect x="717.10" y="643.16" width="11.67" height="11.67" fill="#ffb3a7"/>
<rect x="728.18" y="643.16" width="11.67" height="11.67" fill="#ff8d81"/>
<rect x="739.25" y="643.16" width="22.74" height="11.67" fill="#fe412a"/>
<rect x="761.39" y="643.16" width="11.67" height="11.67" fill="#fe331a"/>
<rect x="772.46" y="643.16" width="11.67" height="11.67" fill="#fe7468"/>
<rect x="783.54" y="643.16" width="11.67" height="11.67" fill="#ff9c90"/>
<rect x="794.61" y="643.16" width="22.74" height="11.67" fill="#fe260a"/>
<rect x="816.75" y="643.16" width="11.67" height="11.67" fill="#fe4e3a"/>
<rect x="827.82" y="643.16" width="11.67" height="11.67" fill="#fe412a"/>
<rect x="838.90" y="643.16" width="11.67" height="11.67" fill="#ff8d81"/>
<rect x="849.97" y="643.16" width="11.67" height="11.67" fill="#fe7468"/>
<rect x="861.04" y="643.16" width="11.67" height="11.67" fill="#fe331a"/>
<rect x="872.11" y="643.16" width="11.67" height="11.67" fill="#fe412a"/>
<rect x="883.18" y="643.16" width="11.67" height="11.67" fill="#fe260a"/>
<rect x="894.26" y="643.16" width="11.67" height="11.67" fill="#ffccbc"/>
<rect x="905.33" y="643.16" width="11.67" height="11.67" fill="#ffa599"/>
<rect x="916.40" y="643.16" width="11.67" height="11.67" fill="#ffb3a7"/>
<rect x="927.47" y="643.16" width="11.67" height="11.67" fill="#ffccbc"/>
<rect x="938.54" y="643.16" width="11.67" height="11.67" fill="#ffd2c1"/>
<rect x="949.62" y="643.16" width="11.67" height="11.67" fill="#ffe0cc"/>
<rect x="960.69" y="643.16" width="11.67" height="11.67" fill="#ffccbc"/>
<rect x="971.76" y="643.16" width="11.67" height="11.67" fill="#ffe0cc"/>
<rect x="982.83" y="643.16" width="11.07" height="11.67" fill="#ffd2c1"/>
<rect x="1016.05" y="643.16" width="33.82" height="11.67" fill="#ffe0cc"/>
<rect x="1049.26" y="643.16" width="11.67" height="11.67" fill="#ffd2c1"/>
<rect x="1060.34" y="643.16" width="11.67" height="11.67" fill="#ffe5d0"/>
<rect x="1071.41" y="643.16" width="55.96" height="11.67" fill="#ffd2c1"/>
<rect x="1126.77" y="643.16" width="11.67" height="11.67" fill="#ffccbc"/>
<rect x="1137.84" y="643.16" width="22.74" height="11.67" fill="#ffd2c1"/>
<rect x="1159.98" y="643.16" width="11.67" height="11.67" fill="#ffe5d0"/>
<rect x="1171.06" y="643.16" width="11.67" height="11.67" fill="#ffe0cc"/>
<rect x="1182.13" y="643.16" width="11.67" height="11.67" fill="#ffbdaf"/>
<rect x="1193.20" y="643.16" width="11.67" height="11.67" fill="#ffd2c1"/>
<rect x="1204.27" y="643.16" width="11.67" height="11.67" fill="#ffbdaf"/>
<rect x="1215.34" y="643.16" width="11.67" height="11.67" fill="#ffb3a7"/>
<rect x="1226.42" y="643.16" width="11.67" height="11.67" fill="#ffd2c1"/>
<rect x="1237.49" y="643.16" width="11.67" height="11.67" fill="#ffbdaf"/>
<rect x="1248.56" y="643.16" width="22.74" height="11.67" fill="#ffe0cc"/>
<rect x="1270.70" y="643.16" width="11.07" height="11.67" fill="#ffd2c1"/>
<rect x="1292.85" y="643.16" width="11.07" height="11.67" fill="#ffd2c1"/>
<rect x="1337.14" y="643.16" width="11.67" height="11.67" fill="#ffe0cc"/>
<rect x="1348.21" y="643.16" width="11.67" height="11.67" fill="#ffe5d0"/>
<rect x="1359.28" y="643.16" width="11.67" height="11.67" fill="#ffccbc"/>
<rect x="1370.35" y="643.16" width="11.67" height="11.67" fill="#ff8d81"/>
<rect x="1381.42" y="643.16" width="11.67" height="11.67" fill="#ff9c90"/>
<rect x="1392.50" y="643.16" width="11.67" height="11.67" fill="#ffa599"/>
<rect x="1403.57" y="643.16" width="11.07" height="11.67" fill="#fe7468"/>
<rect x="86.00" y="654.23" width="22.74" height="11.67" fill="#fe8175"/>
<rect x="108.14" y="654.23" width="11.67" height="11.67" fill="#fe7468"/>
<rect x="119.22" y="654.23" width="11.67" height="11.67" fill="#ffbdaf"/>
<rect x="130.29" y="654.23" width="11.67" height="11.67" fill="#fe5b4a"/>
<rect x="141.36" y="654.23" width="22.74" height="11.67" fill="#fe412a"/>
<rect x="163.50" y="654.23" width="11.67" height="11.67" fill="#fe260a"/>
<rect x="174.58" y="654.23" width="11.67" height="11.67" fill="#ffbdaf"/>
<rect x="185.65" y="654.23" width="11.67" height="11.67" fill="#fe260a"/>
<rect x="196.72" y="654.23" width="11.67" height="11.67" fill="#fe412a"/>
<rect x="207.79" y="654.23" width="22.74" height="11.67" fill="#fe260a"/>
<rect x="229.94" y="654.23" width="11.67" height="11.67" fill="#ffa599"/>
<rect x="241.01" y="654.23" width="22.74" height="11.67" fill="#fe7468"/>
<rect x="263.15" y="654.23" width="22.74" height="11.67" fill="#ff8d81"/>
<rect x="285.30" y="654.23" width="11.67" height="11.67" fill="#ffbdaf"/>
<rect x="296.37" y="654.23" width="11.67" height="11.67" fill="#fe7468"/>
<rect x="307.44" y="654.23" width="11.67" height="11.67" fill="#fe260a"/>
<rect x="318.51" y="654.23" width="11.67" height="11.67" fill="#fe8175"/>
<rect x="329.58" y="654.23" width="33.82" height="11.67" fill="#ffa599"/>
<rect x="362.80" y="654.23" width="22.74" height="11.67" fill="#fe5b4a"/>
<rect x="384.94" y="654.23" width="11.67" height="11.67" fill="#fe8175"/>
<rect x="396.02" y="654.23" width="11.67" height="11.67" fill="#ffd2c1"/>
<rect x="407.09" y="654.23" width="11.67" height="11.67" fill="#fe7468"/>
<rect x="418.16" y="654.23" width="11.67" height="11.67" fill="#ff8d81"/>
<rect x="429.23" y="654.23" width="11.67" height="11.67" fill="#fe7468"/>
<rect x="440.30" y="654.23" width="11.67" height="11.67" fill="#ffa599"/>
<rect x="451.38" y="654.23" width="22.74" height="11.67" fill="#ffd2c1"/>
<rect x="473.52" y="654.23" width="11.67" height="11.67" fill="#ffa599"/>
<rect x="484.59" y="654.23" width="11.67" height="11.67" fill="#fe675a"/>
<rect x="495.66" y="654.23" width="11.67" height="11.67" fill="#ffa599"/>
<rect x="506.74" y="654.23" width="11.67" height="11.67" fill="#ffccbc"/>
<rect x="517.81" y="654.23" width="11.67" height="11.67" fill="#ff8d81"/>
<rect x="528.88" y="654.23" width="11.67" height="11.67" fill="#ffa599"/>
<rect x="539.95" y="654.23" width="11.67" height="11.67" fill="#fe5b4a"/>
<rect x="551.02" y="654.23" width="11.67" height="11.67" fill="#ffa599"/>
<rect x="562.10" y="654.23" width="11.67" height="11.67" fill="#ffd2c1"/>
<rect x="573.17" y="654.23" width="11.67" height="11.67" fill="#ff9c90"/>
<rect x="584.24" y="654.23" width="11.67" height="11.67" fill="#ffbdaf"/>
<rect x="595.31" y="654.23" width="11.67" height="11.67" fill="#fe7468"/>
<rect x="606.38" y="654.23" width="11.67" height="11.67" fill="#ff8d81"/>
<rect x="617.46" y="654.23" width="11.67" height="11.67" fill="#ffccbc"/>
<rect x="628.53" y="654.23" width="22.74" height="11.67" fill="#ff9c90"/>
<rect x="650.67" y="654.23" width="11.67" height="11.67" fill="#fe675a"/>
<rect x="661.74" y="654.23" width="11.67" height="11.67" fill="#fe331a"/>
<rect x="672.82" y="654.23" width="11.67" height="11.67" fill="#ff8d81"/>
<rect x="683.89" y="654.23" width="11.67" height="11.67" fill="#fe260a"/>
<rect x="694.96" y="654.23" width="11.67" height="11.67" fill="#fe412a"/>
<rect x="706.03" y="654.23" width="11.67" height="11.67" fill="#fe7468"/>
<rect x="717.10" y="654.23" width="11.67" height="11.67" fill="#fe412a"/>
<rect x="728.18" y="654.23" width="11.67" height="11.67" fill="#ffa599"/>
<rect x="739.25" y="654.23" width="11.67" height="11.67" fill="#ffb3a7"/>
<rect x="750.32" y="654.23" width="11.67" height="11.67" fill="#ff8d81"/>
<rect x="761.39" y="654.23" width="11.67" height="11.67" fill="#ffa599"/>
<rect x="772.46" y="654.23" width="11.67" height="11.67" fill="#fe7468"/>
<rect x="783.54" y="654.23" width="11.67" height="11.67" fill="#ffccbc"/>
<rect x="794.61" y="654.23" width="11.67" height="11.67" fill="#ffa599"/>
<rect x="805.68" y="654.23" width="11.67" height="11.67" fill="#ffccbc"/>
<rect x="816.75" y="654.23" width="11.67" height="11.67" fill="#ff9c90"/>
<rect x="827.82" y="654.23" width="22.74" height="11.67" fill="#ffbdaf"/>
<rect x="849.97" y="654.23" width="11.67" height="11.67" fill="#fe7468"/>
<rect x="861.04" y="654.23" width="11.67" height="11.67" fill="#ffb3a7"/>
<rect x="872.11" y="654.23" width="11.67" height="11.67" fill="#ff9c90"/>
<rect x="883.18" y="654.23" width="11.67" height="11.67" fill="#ffd2c1"/>
<rect x="894.26" y="654.23" width="11.67" height="11.67" fill="#ffb3a7"/>
<rect x="905.33" y="654.23" width="11.67" height="11.67" fill="#ffa599"/>
<rect x="916.40" y="654.23" width="11.67" height="11.67" fill="#fe5b4a"/>
<rect x="927.47" y="654.23" width="22.74" height="11.67" fill="#fe260a"/>
<rect x="949.62" y="654.23" width="11.67" height="11.67" fill="#ffbdaf"/>
<rect x="960.69" y="654.23" width="22.74" height="11.67" fill="#fe412a"/>
<rect x="982.83" y="654.23" width="11.67" height="11.67" fill="#fe7468"/>
<rect x="993.90" y="654.23" width="11.67" height="11.67" fill="#ffa599"/>
<rect x="1004.98" y="654.23" width="11.67" height="11.67" fill="#ffd2c1"/>
<rect x="1016.05" y="654.23" width="11.67" height="11.67" fill="#ffa599"/>
<rect x="1027.12" y="654.23" width="11.67" height="11.67" fill="#fe5b4a"/>
<rect x="1038.19" y="654.23" width="22.74" height="11.67" fill="#fe260a"/>
<rect x="1060.34" y="654.23" width="11.67" height="11.67" fill="#ff8d81"/>
<rect x="1071.41" y="654.23" width="44.89" height="11.67" fill="#fe260a"/>
<rect x="1115.70" y="654.23" width="11.67" height="11.67" fill="#fe5b4a"/>
<rect x="1126.77" y="654.23" width="44.89" height="11.67" fill="#fe260a"/>
<rect x="1171.06" y="654.23" width="11.67" height="11.67" fill="#ffb3a7"/>
<rect x="1182.13" y="654.23" width="11.67" height="11.67" fill="#fe412a"/>
<rect x="1193.20" y="654.23" width="11.67" height="11.67" fill="#fe675a"/>
<rect x="1204.27" y="654.23" width="11.67" height="11.67" fill="#fe5b4a"/>
<rect x="1215.34" y="654.23" width="11.67" height="11.67" fill="#ff9c90"/>
<rect x="1226.42" y="654.23" width="11.67" height="11.67" fill="#ffa599"/>
<rect x="1237.49" y="654.23" width="11.67" height="11.67" fill="#fe675a"/>
<rect x="1248.56" y="654.23" width="33.82" height="11.67" fill="#fe260a"/>
<rect x="1281.78" y="654.23" width="11.67" height="11.67" fill="#ff9c90"/>
<rect x="1292.85" y="654.23" width="11.67" height="11.67" fill="#ffa599"/>
<rect x="1303.92" y="654.23" width="11.67" height="11.67" fill="#ffb3a7"/>
<rect x="1314.99" y="654.23" width="11.67" height="11.67" fill="#ff8d81"/>
<rect x="1326.06" y="654.23" width="11.67" height="11.67" fill="#ffa599"/>
<rect x="1337.14" y="654.23" width="11.67" height="11.67" fill="#ffbdaf"/>
<rect x="1348.21" y="654.23" width="11.67" height="11.67" fill="#fe5b4a"/>
<rect x="1359.28" y="654.23" width="11.67" height="11.67" fill="#fe7468"/>
<rect x="1370.35" y="654.23" width="11.67" height="11.67" fill="#fe5b4a"/>
<rect x="1381.42" y="654.23" width="11.67" height="11.67" fill="#fe7468"/>
<rect x="1392.50" y="654.23" width="11.67" height="11.67" fill="#ffbdaf"/>
<rect x="1403.57" y="654.23" width="11.07" height="11.67" fill="#fe7468"/>
<rect x="86.00" y="665.30" width="11.67" height="11.67" fill="#ffb3a7"/>
<rect x="97.07" y="665.30" width="33.82" height="11.67" fill="#ffbdaf"/>
<rect x="130.29" y="665.30" width="11.67" height="11.67" fill="#fe4e3a"/>
<rect x="141.36" y="665.30" width="11.67" height="11.67" fill="#ff8d81"/>
<rect x="152.43" y="665.30" width="22.74" height="11.67" fill="#ffa599"/>
<rect x="174.58" y="665.30" width="11.67" height="11.07" fill="#ffbdaf"/>
<rect x="185.65" y="665.30" width="33.82" height="11.67" fill="#ffa599"/>
<rect x="218.86" y="665.30" width="11.67" height="11.67" fill="#ffb3a7"/>
<rect x="229.94" y="665.30" width="11.67" height="11.67" fill="#ffbdaf"/>
<rect x="241.01" y="665.30" width="22.74" height="11.67" fill="#ffa599"/>
<rect x="263.15" y="665.30" width="11.67" height="11.67" fill="#ffbdaf"/>
<rect x="274.22" y="665.30" width="11.67" height="11.67" fill="#ffccbc"/>
<rect x="285.30" y="665.30" width="11.67" height="11.07" fill="#ffbdaf"/>
<rect x="296.37" y="665.30" width="11.67" height="11.67" fill="#ffb3a7"/>
<rect x="307.44" y="665.30" width="11.67" height="11.67" fill="#ffa599"/>
<rect x="318.51" y="665.30" width="11.67" height="11.67" fill="#fe8175"/>
<rect x="329.58" y="665.30" width="11.67" height="11.07" fill="#fe412a"/>
<rect x="340.66" y="665.30" width="11.67" height="11.67" fill="#ff8d81"/>
<rect x="351.73" y="665.30" width="11.67" height="11.07" fill="#fe260a"/>
<rect x="362.80" y="665.30" width="11.67" height="11.67" fill="#fe5b4a"/>
<rect x="373.87" y="665.30" width="11.67" height="11.07" fill="#ffa599"/>
<rect x="384.94" y="665.30" width="11.67" height="11.07" fill="#ffbdaf"/>
<rect x="396.02" y="665.30" width="11.67" height="11.07" fill="#ffe0cc"/>
<rect x="407.09" y="665.30" width="33.82" height="11.07" fill="#ffbdaf"/>
<rect x="440.30" y="665.30" width="22.74" height="11.67" fill="#ffd2c1"/>
<rect x="462.45" y="665.30" width="11.67" height="11.07" fill="#ff9c90"/>
<rect x="473.52" y="665.30" width="11.67" height="11.07" fill="#ffd2c1"/>
<rect x="484.59" y="665.30" width="11.67" height="11.07" fill="#ffe5d0"/>
<rect x="495.66" y="665.30" width="11.67" height="11.07" fill="#ffd2c1"/>
<rect x="506.74" y="665.30" width="22.74" height="11.07" fill="#ffe5d0"/>
<rect x="528.88" y="665.30" width="11.67" height="11.07" fill="#ffb3a7"/>
<rect x="539.95" y="665.30" width="11.67" height="11.07" fill="#ffe5d0"/>
<rect x="551.02" y="665.30" width="11.67" height="11.07" fill="#ffa599"/>
<rect x="562.10" y="665.30" width="11.67" height="11.67" fill="#ffbdaf"/>
<rect x="573.17" y="665.30" width="33.82" height="11.07" fill="#ffd2c1"/>
<rect x="606.38" y="665.30" width="11.67" height="11.07" fill="#ffa599"/>
<rect x="617.46" y="665.30" width="11.67" height="11.67" fill="#ffbdaf"/>
<rect x="628.53" y="665.30" width="22.74" height="11.07" fill="#ffb3a7"/>
<rect x="650.67" y="665.30" width="11.67" height="11.07" fill="#ffa599"/>
<rect x="661.74" y="665.30" width="11.67" height="11.67" fill="#ffb3a7"/>
<rect x="672.82" y="665.30" width="11.67" height="11.67" fill="#ffe0cc"/>
<rect x="683.89" y="665.30" width="22.74" height="11.07" fill="#ffa599"/>
<rect x="706.03" y="665.30" width="11.67" height="11.07" fill="#ffe0cc"/>
<rect x="717.10" y="665.30" width="11.67" height="11.07" fill="#ffbdaf"/>
<rect x="728.18" y="665.30" width="11.67" height="11.67" fill="#ffe0cc"/>
<rect x="739.25" y="665.30" width="11.67" height="11.67" fill="#ffb3a7"/>
<rect x="750.32" y="665.30" width="33.82" height="11.07" fill="#ffccbc"/>
<rect x="783.54" y="665.30" width="11.67" height="11.07" fill="#ffbdaf"/>
<rect x="794.61" y="665.30" width="11.67" height="11.07" fill="#ffd2c1"/>
<rect x="805.68" y="665.30" width="11.67" height="11.07" fill="#ffccbc"/>
<rect x="816.75" y="665.30" width="22.14" height="11.07" fill="#ffbdaf"/>
<rect x="849.97" y="665.30" width="33.82" height="11.67" fill="#ffccbc"/>
<rect x="883.18" y="665.30" width="11.67" height="11.07" fill="#ffbdaf"/>
<rect x="894.26" y="665.30" width="11.67" height="11.67" fill="#ffd2c1"/>
<rect x="905.33" y="665.30" width="22.74" height="11.67" fill="#ffccbc"/>
<rect x="927.47" y="665.30" width="44.89" height="11.67" fill="#ffbdaf"/>
<rect x="971.76" y="665.30" width="22.74" height="11.67" fill="#ff8d81"/>
<rect x="993.90" y="665.30" width="11.67" height="11.67" fill="#fe412a"/>
<rect x="1004.98" y="665.30" width="11.67" height="11.07" fill="#fe4e3a"/>
<rect x="1016.05" y="665.30" width="11.67" height="11.07" fill="#fe260a"/>
<rect x="1027.12" y="665.30" width="11.67" height="11.67" fill="#fe5b4a"/>
<rect x="1038.19" y="665.30" width="11.67" height="11.67" fill="#ff8d81"/>
<rect x="1049.26" y="665.30" width="22.74" height="11.07" fill="#ffb3a7"/>
<rect x="1071.41" y="665.30" width="22.74" height="11.67" fill="#ff8d81"/>
<rect x="1093.55" y="665.30" width="22.74" height="11.67" fill="#ffb3a7"/>
<rect x="1115.70" y="665.30" width="11.67" height="11.67" fill="#ffd2c1"/>
<rect x="1126.77" y="665.30" width="11.67" height="11.67" fill="#ffb3a7"/>
<rect x="1137.84" y="665.30" width="11.67" height="11.67" fill="#ffbdaf"/>
<rect x="1148.91" y="665.30" width="11.67" height="11.67" fill="#ff9c90"/>
<rect x="1159.98" y="665.30" width="11.67" height="11.67" fill="#ffa599"/>
<rect x="1171.06" y="665.30" width="11.67" height="11.67" fill="#ffbdaf"/>
<rect x="1182.13" y="665.30" width="11.67" height="11.67" fill="#ffccbc"/>
<rect x="1193.20" y="665.30" width="11.67" height="11.67" fill="#ff8d81"/>
<rect x="1204.27" y="665.30" width="11.67" height="11.67" fill="#ffbdaf"/>
<rect x="1215.34" y="665.30" width="11.67" height="11.67" fill="#ffb3a7"/>
<rect x="1226.42" y="665.30" width="11.67" height="11.07" fill="#ffe5d0"/>
<rect x="1237.49" y="665.30" width="11.67" height="11.07" fill="#ffbdaf"/>
<rect x="1248.56" y="665.30" width="11.67" height="11.67" fill="#ffccbc"/>
<rect x="1259.63" y="665.30" width="11.67" height="11.67" fill="#ff9c90"/>
<rect x="1270.70" y="665.30" width="11.67" height="11.67" fill="#ffccbc"/>
<rect x="1281.78" y="665.30" width="11.67" height="11.07" fill="#ffa599"/>
<rect x="1292.85" y="665.30" width="11.67" height="11.07" fill="#fe7468"/>
<rect x="1303.92" y="665.30" width="11.67" height="11.67" fill="#fe331a"/>
<rect x="1314.99" y="665.30" width="11.67" height="11.67" fill="#fe412a"/>
<rect x="1326.06" y="665.30" width="11.67" height="11.07" fill="#fe260a"/>
<rect x="1337.14" y="665.30" width="11.67" height="11.67" fill="#ffb3a7"/>
<rect x="1348.21" y="665.30" width="11.67" height="11.07" fill="#fe5b4a"/>
<rect x="1359.28" y="665.30" width="11.67" height="11.67" fill="#fe7468"/>
<rect x="1370.35" y="665.30" width="11.67" height="11.67" fill="#ffd2c1"/>
<rect x="1381.42" y="665.30" width="11.67" height="11.07" fill="#ffbdaf"/>
<rect x="1392.50" y="665.30" width="11.67" height="11.07" fill="#ffe5d0"/>
<rect x="1403.57" y="665.30" width="11.07" height="11.67" fill="#ffbdaf"/>
<rect x="86.00" y="676.38" width="11.07" height="11.07" fill="#ffe0cc"/>
<rect x="119.22" y="676.38" width="11.67" height="11.67" fill="#ffd2c1"/>
<rect x="130.29" y="676.38" width="22.74" height="11.07" fill="#ffe0cc"/>
<rect x="152.43" y="676.38" width="22.14" height="11.07" fill="#ffd2c1"/>
<rect x="185.65" y="676.38" width="11.67" height="11.07" fill="#ffd2c1"/>
<rect x="196.72" y="676.38" width="11.67" height="11.07" fill="#ffe0cc"/>
<rect x="207.79" y="676.38" width="11.67" height="11.07" fill="#ffccbc"/>
<rect x="218.86" y="676.38" width="11.67" height="11.07" fill="#ffd2c1"/>
<rect x="229.94" y="676.38" width="11.67" height="11.67" fill="#ffccbc"/>
<rect x="241.01" y="676.38" width="33.82" height="11.07" fill="#ffd2c1"/>
<rect x="274.22" y="676.38" width="11.07" height="11.07" fill="#ffb3a7"/>
<rect x="296.37" y="676.38" width="11.67" height="11.07" fill="#ffd2c1"/>
<rect x="307.44" y="676.38" width="22.14" height="11.07" fill="#ffccbc"/>
<rect x="340.66" y="676.38" width="11.07" height="11.67" fill="#ffe0cc"/>
<rect x="362.80" y="676.38" width="11.07" height="11.07" fill="#ffe0cc"/>
<rect x="451.38" y="676.38" width="11.07" height="11.07" fill="#ffe5d0"/>
<rect x="562.10" y="676.38" width="11.07" height="11.67" fill="#ffe5d0"/>
<rect x="617.46" y="676.38" width="11.07" height="11.67" fill="#ffe0cc"/>
<rect x="661.74" y="676.38" width="22.14" height="11.07" fill="#ffe0cc"/>
<rect x="728.18" y="676.38" width="22.14" height="11.07" fill="#ffe0cc"/>
<rect x="838.90" y="676.38" width="22.14" height="11.07" fill="#ffe5d0"/>
<rect x="894.26" y="676.38" width="44.89" height="11.67" fill="#ffe5d0"/>
<rect x="938.54" y="676.38" width="22.74" height="11.07" fill="#ffd2c1"/>
<rect x="960.69" y="676.38" width="11.67" height="11.07" fill="#ffccbc"/>
<rect x="971.76" y="676.38" width="11.07" height="11.07" fill="#ffe0cc"/>
<rect x="993.90" y="676.38" width="11.07" height="11.07" fill="#ffe0cc"/>
<rect x="1027.12" y="676.38" width="11.67" height="11.07" fill="#ffe0cc"/>
<rect x="1038.19" y="676.38" width="11.07" height="11.07" fill="#ffd2c1"/>
<rect x="1071.41" y="676.38" width="11.07" height="11.07" fill="#ffe0cc"/>
<rect x="1093.55" y="676.38" width="11.67" height="11.07" fill="#ffccbc"/>
<rect x="1104.62" y="676.38" width="11.67" height="11.07" fill="#ffe0cc"/>
<rect x="1115.70" y="676.38" width="11.67" height="11.07" fill="#ffccbc"/>
<rect x="1126.77" y="676.38" width="22.74" height="11.07" fill="#ffd2c1"/>
<rect x="1148.91" y="676.38" width="22.74" height="11.07" fill="#ffccbc"/>
<rect x="1171.06" y="676.38" width="11.67" height="11.67" fill="#ffd2c1"/>
<rect x="1182.13" y="676.38" width="33.82" height="11.67" fill="#ffe0cc"/>
<rect x="1215.34" y="676.38" width="11.07" height="11.07" fill="#ffd2c1"/>
<rect x="1248.56" y="676.38" width="11.67" height="11.07" fill="#ffd2c1"/>
<rect x="1259.63" y="676.38" width="11.67" height="11.07" fill="#ffe0cc"/>
<rect x="1270.70" y="676.38" width="11.07" height="11.07" fill="#ffd2c1"/>
<rect x="1303.92" y="676.38" width="22.14" height="11.07" fill="#ffe0cc"/>
<rect x="1337.14" y="676.38" width="11.07" height="11.67" fill="#ffe0cc"/>
<rect x="1359.28" y="676.38" width="22.14" height="11.07" fill="#ffe0cc"/>
<rect x="1403.57" y="676.38" width="11.07" height="11.07" fill="#ffe0cc"/>
<rect x="119.22" y="687.45" width="11.07" height="11.67" fill="#ffe5d0"/>
<rect x="174.58" y="687.45" width="11.07" height="11.67" fill="#ffe5d0"/>
<rect x="229.94" y="687.45" width="11.07" height="11.67" fill="#ffe5d0"/>
<rect x="329.58" y="687.45" width="22.14" height="11.67" fill="#ffe5d0"/>
<rect x="396.02" y="687.45" width="11.07" height="11.67" fill="#ffe5d0"/>
<rect x="506.74" y="687.45" width="11.07" height="11.67" fill="#ffe5d0"/>
<rect x="562.10" y="687.45" width="11.07" height="11.67" fill="#ffe5d0"/>
<rect x="617.46" y="687.45" width="11.07" height="11.67" fill="#ffe0cc"/>
<rect x="783.54" y="687.45" width="11.07" height="11.67" fill="#ffe5d0"/>
<rect x="894.26" y="687.45" width="22.14" height="11.67" fill="#ffe5d0"/>
<rect x="1016.05" y="687.45" width="11.07" height="11.07" fill="#ffe5d0"/>
<rect x="1171.06" y="687.45" width="22.14" height="11.67" fill="#ffe5d0"/>
<rect x="1226.42" y="687.45" width="22.14" height="11.67" fill="#ffe5d0"/>
<rect x="1337.14" y="687.45" width="11.07" height="11.07" fill="#ffe0cc"/>
<rect x="119.22" y="698.52" width="11.07" height="11.07" fill="#ffe0cc"/>
<rect x="174.58" y="698.52" width="11.07" height="11.07" fill="#ffe5d0"/>
<rect x="229.94" y="698.52" width="11.07" height="11.67" fill="#ffe5d0"/>
<rect x="274.22" y="698.52" width="22.14" height="11.67" fill="#ffe5d0"/>
<rect x="340.66" y="698.52" width="11.07" height="11.67" fill="#ffe5d0"/>
<rect x="396.02" y="698.52" width="11.07" height="11.07" fill="#ffe5d0"/>
<rect x="451.38" y="698.52" width="11.07" height="11.07" fill="#ffe0cc"/>
<rect x="506.74" y="698.52" width="11.07" height="11.07" fill="#ffe5d0"/>
<rect x="562.10" y="698.52" width="11.07" height="11.67" fill="#ffe5d0"/>
<rect x="617.46" y="698.52" width="22.14" height="11.67" fill="#ffe0cc"/>
<rect x="672.82" y="698.52" width="11.07" height="11.07" fill="#ffe0cc"/>
<rect x="728.18" y="698.52" width="11.07" height="11.67" fill="#ffe5d0"/>
<rect x="783.54" y="698.52" width="11.07" height="11.07" fill="#ffe5d0"/>
<rect x="827.82" y="698.52" width="11.67" height="11.07" fill="#ffe5d0"/>
<rect x="838.90" y="698.52" width="11.07" height="11.67" fill="#ffe0cc"/>
<rect x="894.26" y="698.52" width="11.07" height="11.07" fill="#ffe5d0"/>
<rect x="1060.34" y="698.52" width="11.07" height="11.07" fill="#ffe5d0"/>
<rect x="1115.70" y="698.52" width="11.07" height="11.67" fill="#ffe0cc"/>
<rect x="1171.06" y="698.52" width="11.07" height="11.07" fill="#ffdbc7"/>
<rect x="1226.42" y="698.52" width="11.07" height="11.07" fill="#ffe5d0"/>
<rect x="1281.78" y="698.52" width="11.07" height="11.07" fill="#ffe0cc"/>
<rect x="97.07" y="709.59" width="11.07" height="11.07" fill="#ffe5d0"/>
<rect x="218.86" y="709.59" width="22.14" height="11.67" fill="#ffe5d0"/>
<rect x="285.30" y="709.59" width="22.14" height="11.67" fill="#ffe5d0"/>
<rect x="340.66" y="709.59" width="11.07" height="11.67" fill="#ffe5d0"/>
<rect x="562.10" y="709.59" width="22.14" height="11.67" fill="#ffe5d0"/>
<rect x="617.46" y="709.59" width="11.07" height="11.67" fill="#ffe5d0"/>
<rect x="728.18" y="709.59" width="11.07" height="11.67" fill="#ffe5d0"/>
<rect x="838.90" y="709.59" width="11.07" height="11.67" fill="#ffe0cc"/>
<rect x="1115.70" y="709.59" width="11.07" height="11.67" fill="#ffe5d0"/>
<rect x="1159.98" y="709.59" width="11.07" height="11.07" fill="#ffe5d0"/>
<rect x="1237.49" y="709.59" width="11.07" height="11.07" fill="#ffe5d0"/>
<rect x="1337.14" y="709.59" width="11.07" height="11.67" fill="#ffe5d0"/>
<rect x="119.22" y="720.66" width="11.07" height="11.67" fill="#ffe5d0"/>
<rect x="174.58" y="720.66" width="11.07" height="11.67" fill="#ffe0cc"/>
<rect x="218.86" y="720.66" width="22.14" height="11.67" fill="#ffe5d0"/>
<rect x="274.22" y="720.66" width="22.14" height="11.67" fill="#ffe5d0"/>
<rect x="340.66" y="720.66" width="11.07" height="11.67" fill="#ffe5d0"/>
<rect x="396.02" y="720.66" width="11.07" height="11.67" fill="#ffe5d0"/>
<rect x="451.38" y="720.66" width="11.07" height="11.67" fill="#ffe5d0"/>
<rect x="539.95" y="720.66" width="11.07" height="11.07" fill="#ffe5d0"/>
<rect x="562.10" y="720.66" width="11.07" height="11.07" fill="#ffe5d0"/>
<rect x="617.46" y="720.66" width="11.67" height="11.67" fill="#ffdbc7"/>
<rect x="628.53" y="720.66" width="11.07" height="11.07" fill="#ffe0cc"/>
<rect x="672.82" y="720.66" width="11.07" height="11.67" fill="#ffe5d0"/>
<rect x="728.18" y="720.66" width="11.07" height="11.67" fill="#ffe5d0"/>
<rect x="783.54" y="720.66" width="11.07" height="11.07" fill="#ffe5d0"/>
<rect x="838.90" y="720.66" width="11.07" height="11.67" fill="#ffe5d0"/>
<rect x="883.18" y="720.66" width="22.14" height="11.07" fill="#ffe5d0"/>
<rect x="1060.34" y="720.66" width="11.07" height="11.67" fill="#ffe5d0"/>
<rect x="1115.70" y="720.66" width="11.07" height="11.07" fill="#ffe0cc"/>
<rect x="1171.06" y="720.66" width="11.07" height="11.67" fill="#ffe5d0"/>
<rect x="1215.34" y="720.66" width="22.14" height="11.07" fill="#ffe5d0"/>
<rect x="1248.56" y="720.66" width="11.07" height="11.07" fill="#ffe5d0"/>
<rect x="1281.78" y="720.66" width="11.07" height="11.07" fill="#ffe5d0"/>
<rect x="1337.14" y="720.66" width="11.07" height="11.67" fill="#ffe5d0"/>
<rect x="119.22" y="731.74" width="11.07" height="11.67" fill="#ffe5d0"/>
<rect x="174.58" y="731.74" width="11.07" height="11.07" fill="#ffe0cc"/>
<rect x="196.72" y="731.74" width="11.07" height="11.07" fill="#ffe5d0"/>
<rect x="229.94" y="731.74" width="11.07" height="11.67" fill="#ffe5d0"/>
<rect x="285.30" y="731.74" width="11.07" height="11.67" fill="#ffe5d0"/>
<rect x="340.66" y="731.74" width="11.07" height="11.67" fill="#ffe0cc"/>
<rect x="396.02" y="731.74" width="11.07" height="11.67" fill="#ffe0cc"/>
<rect x="451.38" y="731.74" width="11.07" height="11.67" fill="#ffe5d0"/>
<rect x="506.74" y="731.74" width="11.07" height="11.07" fill="#ffdbc7"/>
<rect x="551.02" y="731.74" width="11.07" height="11.07" fill="#ffe5d0"/>
<rect x="617.46" y="731.74" width="11.07" height="11.67" fill="#ffe5d0"/>
<rect x="672.82" y="731.74" width="11.07" height="11.67" fill="#ffe5d0"/>
<rect x="728.18" y="731.74" width="11.07" height="11.67" fill="#ffe5d0"/>
<rect x="838.90" y="731.74" width="11.07" height="11.67" fill="#ffe0cc"/>
<rect x="960.69" y="731.74" width="11.07" height="11.07" fill="#ffe5d0"/>
<rect x="1060.34" y="731.74" width="11.07" height="11.67" fill="#ffe0cc"/>
<rect x="1171.06" y="731.74" width="11.07" height="11.67" fill="#ffe0cc"/>
<rect x="1337.14" y="731.74" width="11.07" height="11.07" fill="#ffe5d0"/>
<rect x="1392.50" y="731.74" width="11.07" height="11.67" fill="#ffe5d0"/>
<rect x="119.22" y="742.81" width="11.07" height="11.07" fill="#ffe5d0"/>
<rect x="229.94" y="742.81" width="11.07" height="11.67" fill="#ffe5d0"/>
<rect x="274.22" y="742.81" width="33.22" height="11.67" fill="#ffe5d0"/>
<rect x="340.66" y="742.81" width="11.07" height="11.67" fill="#ffe5d0"/>
<rect x="396.02" y="742.81" width="11.07" height="11.67" fill="#ffe5d0"/>
<rect x="451.38" y="742.81" width="11.07" height="11.67" fill="#ffe0cc"/>
<rect x="562.10" y="742.81" width="11.07" height="11.07" fill="#ffe5d0"/>
<rect x="617.46" y="742.81" width="11.67" height="11.07" fill="#ffdbc7"/>
<rect x="628.53" y="742.81" width="11.07" height="11.07" fill="#ffe0cc"/>
<rect x="672.82" y="742.81" width="11.07" height="11.67" fill="#ffe5d0"/>
<rect x="728.18" y="742.81" width="11.07" height="11.07" fill="#ffe5d0"/>
<rect x="783.54" y="742.81" width="11.07" height="11.07" fill="#ffe5d0"/>
<rect x="838.90" y="742.81" width="11.07" height="11.67" fill="#ffe0cc"/>
<rect x="894.26" y="742.81" width="11.07" height="11.67" fill="#ffe5d0"/>
<rect x="1004.98" y="742.81" width="11.07" height="11.07" fill="#ffe5d0"/>
<rect x="1060.34" y="742.81" width="11.07" height="11.67" fill="#ffe5d0"/>
<rect x="1115.70" y="742.81" width="11.07" height="11.07" fill="#ffe5d0"/>
<rect x="1171.06" y="742.81" width="11.07" height="11.67" fill="#ffe0cc"/>
<rect x="1226.42" y="742.81" width="11.07" height="11.07" fill="#ffe5d0"/>
<rect x="1281.78" y="742.81" width="11.07" height="11.07" fill="#ffe5d0"/>
<rect x="1392.50" y="742.81" width="11.07" height="11.67" fill="#ffe5d0"/>
<rect x="174.58" y="753.88" width="11.07" height="11.67" fill="#ffe0cc"/>
<rect x="229.94" y="753.88" width="11.07" height="11.67" fill="#ffe5d0"/>
<rect x="285.30" y="753.88" width="11.07" height="11.07" fill="#ffe5d0"/>
<rect x="340.66" y="753.88" width="11.07" height="11.07" fill="#ffe0cc"/>
<rect x="396.02" y="753.88" width="11.07" height="11.67" fill="#ffe0cc"/>
<rect x="451.38" y="753.88" width="11.07" height="11.07" fill="#ffe5d0"/>
<rect x="506.74" y="753.88" width="11.07" height="11.67" fill="#ffe0cc"/>
<rect x="672.82" y="753.88" width="11.07" height="11.67" fill="#ffe5d0"/>
<rect x="838.90" y="753.88" width="11.07" height="11.67" fill="#ffe5d0"/>
<rect x="894.26" y="753.88" width="11.07" height="11.67" fill="#ffe5d0"/>
<rect x="949.62" y="753.88" width="11.07" height="11.07" fill="#ffe5d0"/>
<rect x="1060.34" y="753.88" width="11.07" height="11.67" fill="#ffe5d0"/>
<rect x="1171.06" y="753.88" width="11.07" height="11.07" fill="#ffe5d0"/>
<rect x="1337.14" y="753.88" width="11.07" height="11.67" fill="#ffe0cc"/>
<rect x="1392.50" y="753.88" width="11.07" height="11.67" fill="#ffe0cc"/>
<rect x="119.22" y="764.95" width="11.07" height="11.07" fill="#ffe5d0"/>
<rect x="174.58" y="764.95" width="11.07" height="11.07" fill="#ffe5d0"/>
<rect x="229.94" y="764.95" width="11.07" height="11.07" fill="#ffe5d0"/>
<rect x="396.02" y="764.95" width="11.07" height="11.07" fill="#ffe5d0"/>
<rect x="506.74" y="764.95" width="11.07" height="11.67" fill="#ffe5d0"/>
<rect x="617.46" y="764.95" width="11.07" height="11.07" fill="#ffe5d0"/>
<rect x="672.82" y="764.95" width="11.07" height="11.07" fill="#ffe5d0"/>
<rect x="728.18" y="764.95" width="11.07" height="11.07" fill="#ffe5d0"/>
<rect x="783.54" y="764.95" width="11.07" height="11.07" fill="#ffe5d0"/>
<rect x="838.90" y="764.95" width="11.07" height="11.67" fill="#ffe5d0"/>
<rect x="894.26" y="764.95" width="11.07" height="11.67" fill="#ffe5d0"/>
<rect x="1004.98" y="764.95" width="11.07" height="11.07" fill="#ffe0cc"/>
<rect x="1060.34" y="764.95" width="11.07" height="11.67" fill="#ffe5d0"/>
<rect x="1115.70" y="764.95" width="11.07" height="11.07" fill="#ffe5d0"/>
<rect x="1281.78" y="764.95" width="11.07" height="11.07" fill="#ffe0cc"/>
<rect x="1337.14" y="764.95" width="11.07" height="11.07" fill="#ffe5d0"/>
<rect x="1392.50" y="764.95" width="11.07" height="11.07" fill="#ffe5d0"/>
<rect x="340.66" y="776.02" width="11.07" height="11.07" fill="#ffe5d0"/>
<rect x="451.38" y="776.02" width="11.07" height="11.07" fill="#ffe5d0"/>
<rect x="506.74" y="776.02" width="11.07" height="11.07" fill="#ffe5d0"/>
<rect x="838.90" y="776.02" width="11.07" height="11.07" fill="#ffe5d0"/>
<rect x="894.26" y="776.02" width="11.07" height="11.07" fill="#ffe5d0"/>
<rect x="1060.34" y="776.02" width="11.07" height="11.67" fill="#ffe5d0"/>
<rect x="1248.56" y="776.02" width="11.07" height="11.07" fill="#ffe5d0"/>
<rect x="174.58" y="787.10" width="11.07" height="11.07" fill="#ffe5d0"/>
<rect x="229.94" y="787.10" width="11.07" height="11.07" fill="#ffe5d0"/>
<rect x="396.02" y="787.10" width="11.07" height="11.07" fill="#ffe5d0"/>
<rect x="617.46" y="787.10" width="11.07" height="11.07" fill="#ffe5d0"/>
<rect x="672.82" y="787.10" width="11.07" height="11.07" fill="#ffe5d0"/>
<rect x="1004.98" y="787.10" width="11.07" height="11.67" fill="#ffe5d0"/>
<rect x="1060.34" y="787.10" width="11.07" height="11.67" fill="#ffe5d0"/>
<rect x="1281.78" y="787.10" width="11.07" height="11.07" fill="#ffe5d0"/>
<rect x="340.66" y="798.17" width="11.07" height="11.67" fill="#ffe5d0"/>
<rect x="894.26" y="798.17" width="11.07" height="11.07" fill="#ffe5d0"/>
<rect x="1004.98" y="798.17" width="11.07" height="11.07" fill="#ffe5d0"/>
<rect x="1060.34" y="798.17" width="11.07" height="11.07" fill="#ffe5d0"/>
<rect x="174.58" y="809.24" width="11.07" height="11.67" fill="#ffe5d0"/>
<rect x="340.66" y="809.24" width="11.07" height="11.67" fill="#ffe5d0"/>
<rect x="396.02" y="809.24" width="11.07" height="11.67" fill="#ffe5d0"/>
<rect x="506.74" y="809.24" width="11.07" height="11.67" fill="#ffe5d0"/>
<rect x="672.82" y="809.24" width="11.07" height="11.67" fill="#ffe5d0"/>
<rect x="728.18" y="809.24" width="11.07" height="11.67" fill="#ffe5d0"/>
<rect x="1281.78" y="809.24" width="11.07" height="11.67" fill="#ffe5d0"/>
<rect x="1392.50" y="809.24" width="11.07" height="11.67" fill="#ffe5d0"/>
<rect x="174.58" y="820.31" width="11.07" height="11.07" fill="#ffe5d0"/>
<rect x="229.94" y="820.31" width="11.07" height="11.07" fill="#ffe5d0"/>
<rect x="340.66" y="820.31" width="11.07" height="11.07" fill="#ffe5d0"/>
<rect x="396.02" y="820.31" width="11.07" height="11.07" fill="#ffe5d0"/>
<rect x="506.74" y="820.31" width="11.07" height="11.07" fill="#ffe5d0"/>
<rect x="672.82" y="820.31" width="11.07" height="11.07" fill="#ffe5d0"/>
<rect x="728.18" y="820.31" width="11.07" height="11.07" fill="#ffe5d0"/>
<rect x="838.90" y="820.31" width="11.07" height="11.07" fill="#ffe5d0"/>
<rect x="894.26" y="820.31" width="11.07" height="11.07" fill="#ffe5d0"/>
<rect x="1004.98" y="820.31" width="11.07" height="11.07" fill="#ffe5d0"/>
<rect x="1060.34" y="820.31" width="11.07" height="11.07" fill="#ffe5d0"/>
<rect x="1281.78" y="820.31" width="11.07" height="11.07" fill="#ffe5d0"/>
<rect x="1392.50" y="820.31" width="11.07" height="11.07" fill="#ffe5d0"/>
<rect x="617.46" y="831.38" width="11.07" height="11.07" fill="#ffe5d0"/>
<rect x="1337.14" y="831.38" width="11.07" height="11.07" fill="#ffe5d0"/></g>
</svg>
<div class="yl" style="top:317px">2000us</div>
<div class="yl" style="top:838px">0us</div>
<div class="ax" style="left:85.5px">0s</div>
<div class="ax" style="left:196.2px">10s</div>
<div class="ax" style="left:306.9px">20s</div>
<div class="ax" style="left:417.7px">30s</div>
<div class="ax" style="left:528.4px">40s</div>
<div class="ax" style="left:639.1px">50s</div>
<div class="ax" style="left:749.8px">60s</div>
<div class="ax" style="left:860.5px">70s</div>
<div class="ax" style="left:971.3px">80s</div>
<div class="ax" style="left:1082.0px">90s</div>
<div class="ax" style="left:1192.7px">100s</div>
<div class="ax" style="left:1303.4px">110s</div>
<div class="info">time 54s, range 840-880us, count: 34</div>
<div class="time">Time</div>
</body></html>
